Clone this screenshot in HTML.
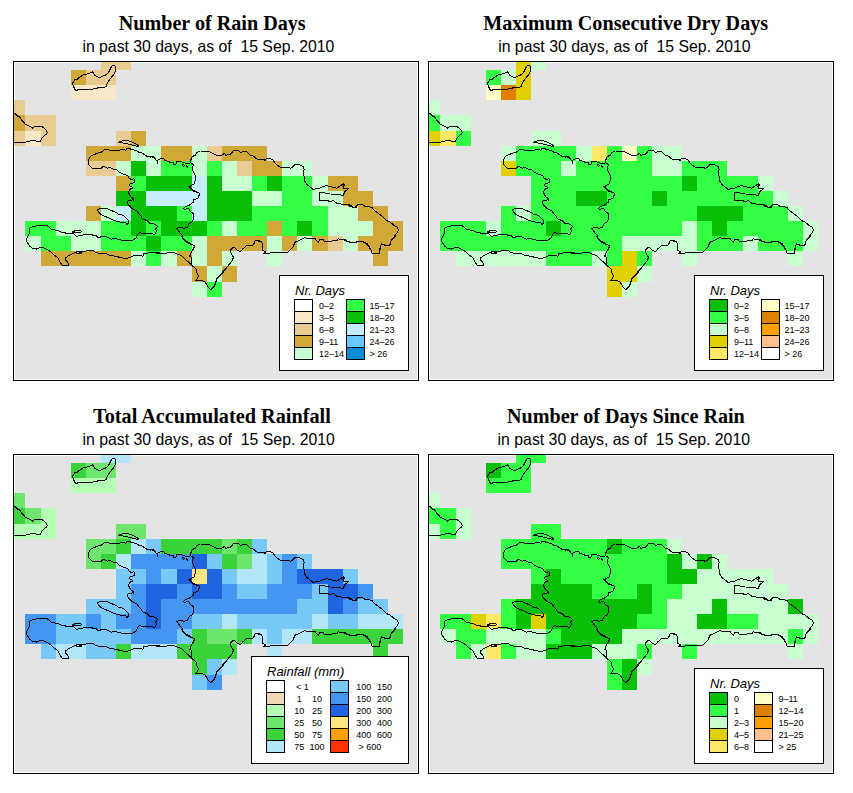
<!DOCTYPE html>
<html><head><meta charset="utf-8"><style>
html,body{margin:0;padding:0;background:#fff;width:853px;height:793px;overflow:hidden}
svg{display:block}
.tt{font-family:"Liberation Serif",serif;font-weight:bold;font-size:20px;fill:#000}
.st{font-family:"Liberation Sans",sans-serif;font-size:16.5px;fill:#000}
.lt{font-family:"Liberation Sans",sans-serif;font-style:italic;font-size:13px;fill:#000}
.ll{font-family:"Liberation Sans",sans-serif;font-size:9px;fill:#000}
</style></head><body>
<svg width="853" height="793" viewBox="0 0 853 793">

<rect x="14" y="62" width="404" height="318" fill="#ffffff"/>
<rect x="15" y="63" width="402" height="316" fill="#e4e4e4"/>
<rect x="101" y="62" width="15" height="8" fill="#e8cc94"/>
<rect x="116" y="62" width="15" height="8" fill="#e8cc94"/>
<rect x="71" y="70" width="15" height="15" fill="#d0a838"/>
<rect x="86" y="70" width="15" height="15" fill="#e8cc94"/>
<rect x="101" y="70" width="15" height="15" fill="#e8cc94"/>
<rect x="71" y="85" width="15" height="15" fill="#f8e8c8"/>
<rect x="86" y="85" width="15" height="15" fill="#f8e8c8"/>
<rect x="101" y="85" width="15" height="15" fill="#f8e8c8"/>
<rect x="14" y="100" width="11" height="15" fill="#e8cc94"/>
<rect x="14" y="115" width="11" height="16" fill="#d0a838"/>
<rect x="25" y="115" width="16" height="16" fill="#e8cc94"/>
<rect x="41" y="115" width="15" height="16" fill="#e8cc94"/>
<rect x="14" y="131" width="11" height="15" fill="#e8cc94"/>
<rect x="25" y="131" width="16" height="15" fill="#f8e8c8"/>
<rect x="41" y="131" width="15" height="15" fill="#e8cc94"/>
<rect x="116" y="131" width="15" height="15" fill="#e8cc94"/>
<rect x="131" y="131" width="15" height="15" fill="#d0a838"/>
<rect x="86" y="146" width="15" height="15" fill="#d0a838"/>
<rect x="101" y="146" width="15" height="15" fill="#d0a838"/>
<rect x="116" y="146" width="15" height="15" fill="#d0a838"/>
<rect x="131" y="146" width="15" height="15" fill="#c8ffd0"/>
<rect x="146" y="146" width="15" height="15" fill="#c8ffd0"/>
<rect x="161" y="146" width="16" height="15" fill="#d0a838"/>
<rect x="177" y="146" width="15" height="15" fill="#d0a838"/>
<rect x="192" y="146" width="15" height="15" fill="#c8ffd0"/>
<rect x="207" y="146" width="15" height="15" fill="#e8cc94"/>
<rect x="222" y="146" width="15" height="15" fill="#d0a838"/>
<rect x="237" y="146" width="15" height="15" fill="#d0a838"/>
<rect x="252" y="146" width="15" height="15" fill="#d0a838"/>
<rect x="86" y="161" width="15" height="15" fill="#e8cc94"/>
<rect x="101" y="161" width="15" height="15" fill="#e8cc94"/>
<rect x="116" y="161" width="15" height="15" fill="#c8ffd0"/>
<rect x="131" y="161" width="15" height="15" fill="#08c008"/>
<rect x="146" y="161" width="15" height="15" fill="#c8ffd0"/>
<rect x="161" y="161" width="16" height="15" fill="#33ff44"/>
<rect x="177" y="161" width="15" height="15" fill="#33ff44"/>
<rect x="192" y="161" width="15" height="15" fill="#c8ffd0"/>
<rect x="207" y="161" width="15" height="15" fill="#33ff44"/>
<rect x="222" y="161" width="15" height="15" fill="#c8ffd0"/>
<rect x="237" y="161" width="15" height="15" fill="#e8cc94"/>
<rect x="252" y="161" width="15" height="15" fill="#d0a838"/>
<rect x="267" y="161" width="15" height="15" fill="#d0a838"/>
<rect x="282" y="161" width="15" height="15" fill="#c8ffd0"/>
<rect x="297" y="161" width="15" height="15" fill="#c8ffd0"/>
<rect x="116" y="176" width="15" height="15" fill="#d0a838"/>
<rect x="131" y="176" width="15" height="15" fill="#33ff44"/>
<rect x="146" y="176" width="15" height="15" fill="#08c008"/>
<rect x="161" y="176" width="16" height="15" fill="#08c008"/>
<rect x="177" y="176" width="15" height="15" fill="#08c008"/>
<rect x="192" y="176" width="15" height="15" fill="#c4eeff"/>
<rect x="207" y="176" width="15" height="15" fill="#08c008"/>
<rect x="222" y="176" width="15" height="15" fill="#c8ffd0"/>
<rect x="237" y="176" width="15" height="15" fill="#c8ffd0"/>
<rect x="252" y="176" width="15" height="15" fill="#33ff44"/>
<rect x="267" y="176" width="15" height="15" fill="#08c008"/>
<rect x="282" y="176" width="15" height="15" fill="#33ff44"/>
<rect x="297" y="176" width="15" height="15" fill="#33ff44"/>
<rect x="312" y="176" width="16" height="15" fill="#c8ffd0"/>
<rect x="328" y="176" width="15" height="15" fill="#d0a838"/>
<rect x="343" y="176" width="15" height="15" fill="#d0a838"/>
<rect x="116" y="191" width="15" height="15" fill="#08c008"/>
<rect x="131" y="191" width="15" height="15" fill="#08c008"/>
<rect x="146" y="191" width="15" height="15" fill="#c4eeff"/>
<rect x="161" y="191" width="16" height="15" fill="#c4eeff"/>
<rect x="177" y="191" width="15" height="15" fill="#c4eeff"/>
<rect x="192" y="191" width="15" height="15" fill="#c4eeff"/>
<rect x="207" y="191" width="15" height="15" fill="#08c008"/>
<rect x="222" y="191" width="15" height="15" fill="#08c008"/>
<rect x="237" y="191" width="15" height="15" fill="#08c008"/>
<rect x="252" y="191" width="15" height="15" fill="#c8ffd0"/>
<rect x="267" y="191" width="15" height="15" fill="#c8ffd0"/>
<rect x="282" y="191" width="15" height="15" fill="#33ff44"/>
<rect x="297" y="191" width="15" height="15" fill="#33ff44"/>
<rect x="312" y="191" width="16" height="15" fill="#c8ffd0"/>
<rect x="328" y="191" width="15" height="15" fill="#c8ffd0"/>
<rect x="343" y="191" width="15" height="15" fill="#d0a838"/>
<rect x="358" y="191" width="15" height="15" fill="#d0a838"/>
<rect x="86" y="206" width="15" height="15" fill="#d0a838"/>
<rect x="101" y="206" width="15" height="15" fill="#c8ffd0"/>
<rect x="116" y="206" width="15" height="15" fill="#c4eeff"/>
<rect x="131" y="206" width="15" height="15" fill="#08c008"/>
<rect x="146" y="206" width="15" height="15" fill="#08c008"/>
<rect x="161" y="206" width="16" height="15" fill="#08c008"/>
<rect x="177" y="206" width="15" height="15" fill="#33ff44"/>
<rect x="192" y="206" width="15" height="15" fill="#c4eeff"/>
<rect x="207" y="206" width="15" height="15" fill="#08c008"/>
<rect x="222" y="206" width="15" height="15" fill="#08c008"/>
<rect x="237" y="206" width="15" height="15" fill="#08c008"/>
<rect x="252" y="206" width="15" height="15" fill="#33ff44"/>
<rect x="267" y="206" width="15" height="15" fill="#33ff44"/>
<rect x="282" y="206" width="15" height="15" fill="#33ff44"/>
<rect x="297" y="206" width="15" height="15" fill="#33ff44"/>
<rect x="312" y="206" width="16" height="15" fill="#33ff44"/>
<rect x="328" y="206" width="15" height="15" fill="#c8ffd0"/>
<rect x="343" y="206" width="15" height="15" fill="#c8ffd0"/>
<rect x="358" y="206" width="15" height="15" fill="#d0a838"/>
<rect x="373" y="206" width="15" height="15" fill="#d0a838"/>
<rect x="25" y="221" width="16" height="15" fill="#33ff44"/>
<rect x="41" y="221" width="15" height="15" fill="#33ff44"/>
<rect x="56" y="221" width="15" height="15" fill="#c8ffd0"/>
<rect x="71" y="221" width="15" height="15" fill="#c8ffd0"/>
<rect x="86" y="221" width="15" height="15" fill="#c8ffd0"/>
<rect x="101" y="221" width="15" height="15" fill="#33ff44"/>
<rect x="116" y="221" width="15" height="15" fill="#33ff44"/>
<rect x="131" y="221" width="15" height="15" fill="#08c008"/>
<rect x="146" y="221" width="15" height="15" fill="#33ff44"/>
<rect x="161" y="221" width="16" height="15" fill="#08c008"/>
<rect x="177" y="221" width="15" height="15" fill="#08c008"/>
<rect x="192" y="221" width="15" height="15" fill="#08c008"/>
<rect x="207" y="221" width="15" height="15" fill="#33ff44"/>
<rect x="222" y="221" width="15" height="15" fill="#c8ffd0"/>
<rect x="237" y="221" width="15" height="15" fill="#33ff44"/>
<rect x="252" y="221" width="15" height="15" fill="#33ff44"/>
<rect x="267" y="221" width="15" height="15" fill="#d0a838"/>
<rect x="282" y="221" width="15" height="15" fill="#33ff44"/>
<rect x="297" y="221" width="15" height="15" fill="#08c008"/>
<rect x="312" y="221" width="16" height="15" fill="#33ff44"/>
<rect x="328" y="221" width="15" height="15" fill="#c8ffd0"/>
<rect x="343" y="221" width="15" height="15" fill="#c8ffd0"/>
<rect x="358" y="221" width="15" height="15" fill="#c8ffd0"/>
<rect x="373" y="221" width="15" height="15" fill="#d0a838"/>
<rect x="388" y="221" width="15" height="15" fill="#d0a838"/>
<rect x="25" y="236" width="16" height="15" fill="#c8ffd0"/>
<rect x="41" y="236" width="15" height="15" fill="#33ff44"/>
<rect x="56" y="236" width="15" height="15" fill="#33ff44"/>
<rect x="71" y="236" width="15" height="15" fill="#c8ffd0"/>
<rect x="86" y="236" width="15" height="15" fill="#c8ffd0"/>
<rect x="101" y="236" width="15" height="15" fill="#33ff44"/>
<rect x="116" y="236" width="15" height="15" fill="#33ff44"/>
<rect x="131" y="236" width="15" height="15" fill="#33ff44"/>
<rect x="146" y="236" width="15" height="15" fill="#08c008"/>
<rect x="161" y="236" width="16" height="15" fill="#33ff44"/>
<rect x="177" y="236" width="15" height="15" fill="#33ff44"/>
<rect x="192" y="236" width="15" height="15" fill="#c8ffd0"/>
<rect x="207" y="236" width="15" height="15" fill="#d0a838"/>
<rect x="222" y="236" width="15" height="15" fill="#d0a838"/>
<rect x="237" y="236" width="15" height="15" fill="#d0a838"/>
<rect x="252" y="236" width="15" height="15" fill="#d0a838"/>
<rect x="267" y="236" width="15" height="15" fill="#c8ffd0"/>
<rect x="282" y="236" width="15" height="15" fill="#d0a838"/>
<rect x="297" y="236" width="15" height="15" fill="#c8ffd0"/>
<rect x="312" y="236" width="16" height="15" fill="#d0a838"/>
<rect x="328" y="236" width="15" height="15" fill="#e8cc94"/>
<rect x="343" y="236" width="15" height="15" fill="#c8ffd0"/>
<rect x="358" y="236" width="15" height="15" fill="#d0a838"/>
<rect x="373" y="236" width="15" height="15" fill="#d0a838"/>
<rect x="388" y="236" width="15" height="15" fill="#d0a838"/>
<rect x="41" y="251" width="15" height="15" fill="#d0a838"/>
<rect x="56" y="251" width="15" height="15" fill="#d0a838"/>
<rect x="71" y="251" width="15" height="15" fill="#d0a838"/>
<rect x="86" y="251" width="15" height="15" fill="#d0a838"/>
<rect x="101" y="251" width="15" height="15" fill="#d0a838"/>
<rect x="116" y="251" width="15" height="15" fill="#d0a838"/>
<rect x="131" y="251" width="15" height="15" fill="#c8ffd0"/>
<rect x="146" y="251" width="15" height="15" fill="#33ff44"/>
<rect x="161" y="251" width="16" height="15" fill="#c8ffd0"/>
<rect x="177" y="251" width="15" height="15" fill="#d0a838"/>
<rect x="192" y="251" width="15" height="15" fill="#c8ffd0"/>
<rect x="207" y="251" width="15" height="15" fill="#d0a838"/>
<rect x="222" y="251" width="15" height="15" fill="#c8ffd0"/>
<rect x="267" y="251" width="15" height="15" fill="#c8ffd0"/>
<rect x="373" y="251" width="15" height="15" fill="#d0a838"/>
<rect x="192" y="266" width="15" height="16" fill="#d0a838"/>
<rect x="207" y="266" width="15" height="16" fill="#c8ffd0"/>
<rect x="222" y="266" width="15" height="16" fill="#d0a838"/>
<rect x="192" y="282" width="15" height="15" fill="#c8ffd0"/>
<rect x="207" y="282" width="15" height="15" fill="#33ff44"/>
<clipPath id="cp1"><rect x="14" y="62" width="404" height="318"/></clipPath>
<g clip-path="url(#cp1)"><g transform="translate(0,0)" fill="none" stroke="#000" stroke-width="1" stroke-linejoin="round" stroke-linecap="round" shape-rendering="crispEdges"><path d="M72.1 83.8 L73.9 81.3 L74.5 79.5 L76.8 79.5 L78.2 78.2 L83.4 74.8 L85.9 74.3 L89.9 73.3 L92.4 71.5 L95.2 75.8 L97.9 77.0 L101.0 77.0 L105.3 75.2 L108.4 72.7 L111.5 66.5 L113.3 65.3 L115.2 65.9 L115.4 70.8 L113.9 74.5 L110.2 78.8 L107.2 83.2 L105.9 86.8 L101.6 87.5 L96.7 88.1 L93.0 89.1 L85.6 89.6 L80.7 89.1 L75.8 90.5 L74.5 88.7 L73.1 85.0 L72.1 83.8"/>
<path d="M11.6 112.7 L13.8 113.4 L15.8 114.1 L17.6 116.2 L19.7 116.9 L21.4 119.7 L23.9 122.5 L25.3 124.3 L28.1 125.3 L30.6 126.7 L32.3 128.1 L33.4 127.1 L37.6 126.7 L39.0 126.2 L41.8 126.6 L44.0 128.1 L46.1 130.2 L47.5 132.7 L46.1 134.5 L44.0 135.9 L41.8 138.0 L41.1 140.1 L40.4 141.5 L37.6 141.5 L35.5 140.7 L31.3 140.4 L29.2 141.5 L25.0 142.2 L18.6 142.2 L11.6 142.2"/>
<path d="M118.2 142.2 L121.3 141.1 L125.7 140.4 L130.1 141.3 L134.5 143.1 L138.0 145.3 L138.5 146.3 L136.3 146.2 L131.0 144.8 L125.7 143.5 L121.3 142.6 L118.2 142.2"/>
<path d="M133.6 200.0 L132.8 198.0 L130.1 196.3 L129.7 193.6 L128.4 192.8 L128.8 191.0 L130.1 189.2 L132.3 188.4 L131.9 186.6 L129.2 185.7 L130.1 184.0 L132.8 183.1 L134.5 182.2 L134.5 179.1 L133.2 178.7 L131.9 179.6 L129.7 178.7 L127.5 175.6 L124.0 174.3 L119.6 172.5 L116.9 169.9 L113.4 169.2 L109.9 167.4 L107.3 168.3 L104.6 166.8 L102.9 166.4 L101.1 168.3 L93.2 168.6 L90.5 166.8 L88.3 163.7 L88.3 160.2 L90.1 156.7 L93.2 154.9 L97.6 153.2 L101.1 152.3 L103.3 150.6 L105.5 149.2 L108.1 149.2 L109.5 150.6 L114.3 151.0 L121.3 149.7 L124.4 149.2 L125.7 151.0 L126.6 148.8 L128.4 148.3 L131.0 149.2 L136.3 150.6 L138.9 152.3 L141.6 152.8 L146.8 156.3 L150.3 156.7 L153.0 157.2 L155.0 158.5"/>
<path d="M150.0 157.2 L153.5 156.7 L155.3 158.9 L157.0 161.1 L157.5 163.3 L157.9 160.2 L160.6 158.9 L163.6 158.0 L164.5 160.7 L167.6 161.1 L170.2 162.4 L173.3 162.9 L173.7 164.6 L175.9 164.2 L176.4 162.0 L179.9 161.5 L183.4 162.4 L186.1 163.3 L190.0 163.0 L190.9 159.8 L192.2 156.7 L195.7 154.9 L197.0 152.3 L200.1 151.0 L208.0 151.2 L211.6 152.8 L216.8 155.4 L223.0 154.9 L225.0 152.8"/>
<path d="M191.3 163.0 L193.1 164.6 L192.6 169.9 L195.3 175.6 L195.3 180.4 L194.0 184.4 L190.0 185.7 L190.4 188.4 L193.5 191.0"/>
<path d="M182.1 164.8 L183.4 166.4 L185.0 165.3 L183.0 164.6 L182.1 164.8"/>
<path d="M186.1 165.5 L187.4 167.3 L188.0 165.9"/>
<path d="M220.0 155.4 L222.6 154.9 L224.4 153.2 L225.7 155.4 L230.6 154.1 L233.6 150.6 L238.5 150.6 L240.2 152.3 L246.4 151.2 L249.9 154.9 L252.5 155.4 L256.1 158.5 L257.8 159.3 L264.0 159.3 L264.8 160.7 L266.6 158.5 L269.2 158.0 L272.8 159.8 L276.3 164.6 L280.7 167.3 L285.1 167.7 L291.2 168.1 L293.9 165.5 L295.0 165.1"/>
<path d="M290.0 168.5 L291.8 167.6 L293.5 165.4 L297.0 164.1 L299.7 164.9 L303.2 166.7 L304.1 169.3 L303.6 172.0 L304.1 177.3 L304.5 180.8 L307.6 185.2 L311.1 187.8 L312.9 189.4 L316.4 188.7 L320.8 187.8 L323.4 186.1 L326.9 185.9 L331.3 186.5 L333.1 187.4 L336.6 188.2 L340.1 186.1 L343.2 183.8 L344.5 184.7 L342.8 186.9 L343.6 188.2 L348.5 188.2 L347.1 190.0 L344.9 191.3 L344.1 193.1 L343.6 195.3 L341.9 195.3 L338.8 194.4 L330.4 194.0 L322.5 192.6 L319.9 192.2 L319.0 195.7 L319.0 200.1 L320.3 201.0 L326.9 200.6 L330.0 201.4 L333.5 200.6 L336.6 203.2 L341.0 204.1 L347.1 204.9 L349.4 204.1 L350.7 206.3 L354.2 207.6 L357.7 204.9 L362.1 204.5 L365.0 206.3"/>
<path d="M343.0 204.9 L348.3 204.5 L349.6 206.3 L350.9 205.4 L353.6 207.6 L356.2 207.2 L358.4 204.5 L362.3 204.5 L364.1 206.3 L368.5 206.7 L372.0 207.6 L373.8 209.8 L378.2 213.3 L380.8 215.1 L387.0 220.8 L389.6 221.7 L394.9 226.1 L396.6 226.5 L398.4 230.0 L396.6 233.5 L390.9 241.0 L390.5 244.9 L386.1 245.4 L383.0 244.5 L381.7 243.6 L380.8 245.8 L379.5 250.0"/>
<path d="M343.0 239.2 L346.5 241.0 L350.9 242.3 L357.9 241.9 L361.5 241.4 L365.9 243.2 L369.4 247.2 L370.7 250.0"/>
<path d="M325.0 241.6 L330.3 241.2 L337.3 240.3 L338.2 238.5 L339.1 239.0 L345.2 239.4 L347.0 241.6 L351.4 242.5 L357.5 242.0 L360.2 241.2 L363.7 242.0 L367.2 243.8 L369.8 247.3 L371.2 250.8 L372.5 253.9 L376.0 253.5 L379.5 253.5 L379.9 250.4 L381.3 243.8 L383.9 245.1 L390.1 245.1 L390.5 241.6 L396.2 235.0"/>
<path d="M255.0 240.4 L258.5 240.4 L261.6 241.7 L262.5 244.3 L262.0 248.3 L262.9 250.5 L265.6 251.8 L263.8 253.6 L268.2 254.0 L271.7 252.4 L287.5 252.4 L292.8 247.4 L295.0 242.2 L299.0 240.4 L304.2 237.8 L306.9 238.2 L314.8 238.2 L316.6 240.4 L318.3 242.2 L319.6 239.5 L322.7 239.1 L324.5 241.3 L330.0 241.3"/>
<path d="M260.0 241.3 L255.3 240.4 L254.0 243.5 L252.7 245.2 L246.6 245.7 L243.0 248.7 L240.4 251.4 L237.8 250.5 L234.2 247.4 L231.6 248.3 L230.3 250.9 L231.6 254.0 L233.4 257.1 L232.5 260.2 L229.0 264.6 L225.0 269.8 L221.1 275.1 L217.5 277.8 L215.8 282.1 L214.4 285.0"/>
<path d="M188.7 186.5 L193.1 190.0 L194.8 191.3 L199.2 193.1 L199.7 194.4 L198.4 196.6 L197.9 198.8 L194.0 199.2 L193.1 202.3 L191.3 203.6 L188.7 205.8 L185.6 206.3 L183.4 208.5 L184.3 209.3 L188.7 208.5 L190.4 211.5 L193.5 213.7 L193.5 219.0 L192.2 221.7 L189.1 223.8 L187.4 227.8 L183.4 228.2 L181.7 227.4 L176.4 228.2 L178.1 230.4 L182.5 235.7 L183.0 239.2 L188.2 243.2 L194.0 245.4 L194.8 246.3 L193.1 250.0"/>
<path d="M130.7 188.2 L129.0 191.3 L128.1 192.6 L129.8 194.4 L130.7 196.6 L133.4 198.8 L131.6 200.6 L128.1 201.0 L127.2 202.8 L129.0 205.4 L132.5 208.9 L136.9 211.1 L140.4 215.5 L143.0 219.0 L147.4 220.8 L150.1 223.4 L155.3 224.3 L157.5 226.5 L155.8 228.7 L156.2 231.3 L154.9 234.4 L150.9 233.5 L143.0 233.5 L139.5 232.6 L137.8 234.0 L136.0 237.9 L132.9 240.1 L129.0 240.6 L123.7 240.6 L120.2 239.7 L114.9 238.4 L111.4 239.2 L107.0 237.0 L104.3 236.2 L98.2 237.5 L95.5 235.3 L90.3 234.8 L85.0 234.8"/>
<path d="M97.3 210.2 L99.5 208.5 L106.1 208.0 L110.5 210.2 L115.8 212.4 L118.4 214.2 L123.7 215.5 L125.5 217.3 L128.5 220.8 L128.1 223.4 L126.8 224.7 L125.5 222.5 L120.2 222.1 L114.9 220.8 L110.5 218.6 L102.6 215.5 L100.0 213.7 L97.3 210.2"/>
<path d="M95.0 235.5 L90.3 234.2 L85.1 234.6 L79.8 235.5 L76.3 236.4 L75.4 235.1 L72.8 233.3 L67.5 233.3 L61.3 232.4 L58.7 230.7 L51.6 229.3 L47.3 225.8 L39.3 225.4 L34.1 226.3 L30.6 227.6 L29.2 229.3 L30.1 231.1 L27.9 236.4 L26.1 240.3 L27.9 243.4 L29.7 246.1 L32.3 248.2 L36.3 249.1 L40.2 247.4 L43.7 247.8 L49.0 250.4 L52.5 253.5 L57.8 257.9 L60.5 262.8 L62.2 265.4 L68.8 265.4 L67.9 262.3 L65.3 260.1 L65.7 257.9 L69.2 255.3 L73.6 253.1 L77.2 251.8 L81.5 252.2 L85.1 251.3 L86.8 250.4 L90.3 250.0 L95.0 251.3"/>
<path d="M71.9 232.0 L73.6 231.1 L80.7 230.4 L81.7 231.5 L79.8 232.4 L74.5 232.9 L71.9 232.0"/>
<path d="M76.3 252.0 L81.5 251.5 L82.0 253.1 L76.7 253.3 L76.3 252.0"/>
<path d="M90.0 250.7 L93.5 250.7 L95.3 252.0 L98.8 253.3 L106.7 253.7 L110.2 255.5 L116.4 256.4 L120.8 257.7 L126.0 258.6 L131.3 256.8 L134.0 255.5 L141.0 255.5 L142.8 256.4 L143.6 253.7 L151.6 252.4 L158.6 252.9 L165.0 253.3"/>
<path d="M155.0 252.8 L159.4 253.6 L166.4 253.2 L168.2 252.3 L173.5 252.3 L176.1 253.6 L181.4 255.4 L184.9 258.9 L188.4 262.0 L191.9 265.5 L195.9 268.6 L196.8 272.5 L198.5 276.1 L197.2 278.7 L195.4 280.4 L198.1 280.9 L201.6 280.4 L205.1 281.8 L207.8 286.6 L210.8 289.7 L213.9 286.6 L215.7 283.1 L217.0 278.2 L220.1 275.2 L224.5 269.9 L230.0 263.7"/>
<path d="M181.4 236.5 L184.9 240.0 L188.0 242.2 L193.7 245.3 L194.6 246.6 L192.8 249.2 L191.1 253.2 L189.7 256.3 L191.9 257.6 L191.9 261.5 L191.1 264.6 L191.9 265.5"/></g></g>
<rect x="13.5" y="61.5" width="405" height="319" fill="none" stroke="#000" stroke-width="1"/>
<rect x="279.5" y="275.5" width="129" height="95" fill="#fff" stroke="#000" stroke-width="1"/>
<text x="295" y="294.5" class="lt">Nr. Days</text>
<rect x="294.5" y="299.5" width="18" height="12" fill="#ffffff" stroke="#000" stroke-width="1"/>
<rect x="294.5" y="311.5" width="18" height="12" fill="#f8e8c8" stroke="#000" stroke-width="1"/>
<rect x="294.5" y="323.5" width="18" height="12" fill="#e8cc94" stroke="#000" stroke-width="1"/>
<rect x="294.5" y="335.5" width="18" height="12" fill="#d0a838" stroke="#000" stroke-width="1"/>
<rect x="294.5" y="347.5" width="18" height="12" fill="#c8ffd0" stroke="#000" stroke-width="1"/>
<rect x="346.5" y="299.5" width="18" height="12" fill="#33ff44" stroke="#000" stroke-width="1"/>
<rect x="346.5" y="311.5" width="18" height="12" fill="#08c008" stroke="#000" stroke-width="1"/>
<rect x="346.5" y="323.5" width="18" height="12" fill="#c4eeff" stroke="#000" stroke-width="1"/>
<rect x="346.5" y="335.5" width="18" height="12" fill="#66c8ff" stroke="#000" stroke-width="1"/>
<rect x="346.5" y="347.5" width="18" height="12" fill="#0a8cd8" stroke="#000" stroke-width="1"/>
<text x="319" y="308.8" class="ll">0–2</text>
<text x="319" y="320.8" class="ll">3–5</text>
<text x="319" y="332.8" class="ll">6–8</text>
<text x="319" y="344.8" class="ll">9–11</text>
<text x="319" y="356.8" class="ll">12–14</text>
<text x="369.5" y="308.8" class="ll">15–17</text>
<text x="369.5" y="320.8" class="ll">18–20</text>
<text x="369.5" y="332.8" class="ll">21–23</text>
<text x="369.5" y="344.8" class="ll">24–26</text>
<text x="369.5" y="356.8" class="ll">&gt; 26</text>
<text x="212.2" y="29.7" class="tt" text-anchor="middle" textLength="187" lengthAdjust="spacingAndGlyphs">Number of Rain Days</text>
<text x="208.4" y="52" class="st" text-anchor="middle" textLength="252" lengthAdjust="spacingAndGlyphs" xml:space="preserve">in past 30 days, as of  15 Sep. 2010</text>
<rect x="429" y="62" width="404" height="318" fill="#ffffff"/>
<rect x="430" y="63" width="402" height="316" fill="#e4e4e4"/>
<rect x="516" y="62" width="15" height="8" fill="#e0d000"/>
<rect x="531" y="62" width="15" height="8" fill="#c8ffd0"/>
<rect x="486" y="70" width="15" height="15" fill="#33ff44"/>
<rect x="501" y="70" width="15" height="15" fill="#c8ffd0"/>
<rect x="516" y="70" width="15" height="15" fill="#e0d000"/>
<rect x="486" y="85" width="15" height="15" fill="#ffffc8"/>
<rect x="501" y="85" width="15" height="15" fill="#e08000"/>
<rect x="516" y="85" width="15" height="15" fill="#e0d000"/>
<rect x="429" y="100" width="11" height="15" fill="#c8ffd0"/>
<rect x="429" y="115" width="11" height="16" fill="#33ff44"/>
<rect x="440" y="115" width="16" height="16" fill="#c8ffd0"/>
<rect x="456" y="115" width="15" height="16" fill="#c8ffd0"/>
<rect x="429" y="131" width="11" height="15" fill="#e0d000"/>
<rect x="440" y="131" width="16" height="15" fill="#ffe866"/>
<rect x="456" y="131" width="15" height="15" fill="#33ff44"/>
<rect x="531" y="131" width="15" height="15" fill="#c8ffd0"/>
<rect x="546" y="131" width="15" height="15" fill="#c8ffd0"/>
<rect x="501" y="146" width="15" height="15" fill="#c8ffd0"/>
<rect x="516" y="146" width="15" height="15" fill="#33ff44"/>
<rect x="531" y="146" width="15" height="15" fill="#33ff44"/>
<rect x="546" y="146" width="15" height="15" fill="#33ff44"/>
<rect x="561" y="146" width="15" height="15" fill="#33ff44"/>
<rect x="576" y="146" width="16" height="15" fill="#c8ffd0"/>
<rect x="592" y="146" width="15" height="15" fill="#ffe866"/>
<rect x="607" y="146" width="15" height="15" fill="#33ff44"/>
<rect x="622" y="146" width="15" height="15" fill="#ffffc8"/>
<rect x="637" y="146" width="15" height="15" fill="#33ff44"/>
<rect x="652" y="146" width="15" height="15" fill="#c8ffd0"/>
<rect x="667" y="146" width="15" height="15" fill="#c8ffd0"/>
<rect x="501" y="161" width="15" height="15" fill="#e0d000"/>
<rect x="516" y="161" width="15" height="15" fill="#33ff44"/>
<rect x="531" y="161" width="15" height="15" fill="#33ff44"/>
<rect x="546" y="161" width="15" height="15" fill="#33ff44"/>
<rect x="561" y="161" width="15" height="15" fill="#c8ffd0"/>
<rect x="576" y="161" width="16" height="15" fill="#33ff44"/>
<rect x="592" y="161" width="15" height="15" fill="#33ff44"/>
<rect x="607" y="161" width="15" height="15" fill="#33ff44"/>
<rect x="622" y="161" width="15" height="15" fill="#33ff44"/>
<rect x="637" y="161" width="15" height="15" fill="#33ff44"/>
<rect x="652" y="161" width="15" height="15" fill="#c8ffd0"/>
<rect x="667" y="161" width="15" height="15" fill="#c8ffd0"/>
<rect x="682" y="161" width="15" height="15" fill="#33ff44"/>
<rect x="697" y="161" width="15" height="15" fill="#33ff44"/>
<rect x="712" y="161" width="15" height="15" fill="#33ff44"/>
<rect x="531" y="176" width="15" height="15" fill="#33ff44"/>
<rect x="546" y="176" width="15" height="15" fill="#33ff44"/>
<rect x="561" y="176" width="15" height="15" fill="#33ff44"/>
<rect x="576" y="176" width="16" height="15" fill="#33ff44"/>
<rect x="592" y="176" width="15" height="15" fill="#33ff44"/>
<rect x="607" y="176" width="15" height="15" fill="#33ff44"/>
<rect x="622" y="176" width="15" height="15" fill="#33ff44"/>
<rect x="637" y="176" width="15" height="15" fill="#33ff44"/>
<rect x="652" y="176" width="15" height="15" fill="#33ff44"/>
<rect x="667" y="176" width="15" height="15" fill="#33ff44"/>
<rect x="682" y="176" width="15" height="15" fill="#08c008"/>
<rect x="697" y="176" width="15" height="15" fill="#33ff44"/>
<rect x="712" y="176" width="15" height="15" fill="#33ff44"/>
<rect x="727" y="176" width="16" height="15" fill="#33ff44"/>
<rect x="743" y="176" width="15" height="15" fill="#33ff44"/>
<rect x="758" y="176" width="15" height="15" fill="#c8ffd0"/>
<rect x="531" y="191" width="15" height="15" fill="#33ff44"/>
<rect x="546" y="191" width="15" height="15" fill="#33ff44"/>
<rect x="561" y="191" width="15" height="15" fill="#33ff44"/>
<rect x="576" y="191" width="16" height="15" fill="#08c008"/>
<rect x="592" y="191" width="15" height="15" fill="#08c008"/>
<rect x="607" y="191" width="15" height="15" fill="#33ff44"/>
<rect x="622" y="191" width="15" height="15" fill="#33ff44"/>
<rect x="637" y="191" width="15" height="15" fill="#33ff44"/>
<rect x="652" y="191" width="15" height="15" fill="#08c008"/>
<rect x="667" y="191" width="15" height="15" fill="#33ff44"/>
<rect x="682" y="191" width="15" height="15" fill="#33ff44"/>
<rect x="697" y="191" width="15" height="15" fill="#33ff44"/>
<rect x="712" y="191" width="15" height="15" fill="#33ff44"/>
<rect x="727" y="191" width="16" height="15" fill="#33ff44"/>
<rect x="743" y="191" width="15" height="15" fill="#33ff44"/>
<rect x="758" y="191" width="15" height="15" fill="#33ff44"/>
<rect x="773" y="191" width="15" height="15" fill="#c8ffd0"/>
<rect x="501" y="206" width="15" height="15" fill="#33ff44"/>
<rect x="516" y="206" width="15" height="15" fill="#c8ffd0"/>
<rect x="531" y="206" width="15" height="15" fill="#33ff44"/>
<rect x="546" y="206" width="15" height="15" fill="#33ff44"/>
<rect x="561" y="206" width="15" height="15" fill="#33ff44"/>
<rect x="576" y="206" width="16" height="15" fill="#33ff44"/>
<rect x="592" y="206" width="15" height="15" fill="#33ff44"/>
<rect x="607" y="206" width="15" height="15" fill="#33ff44"/>
<rect x="622" y="206" width="15" height="15" fill="#33ff44"/>
<rect x="637" y="206" width="15" height="15" fill="#33ff44"/>
<rect x="652" y="206" width="15" height="15" fill="#33ff44"/>
<rect x="667" y="206" width="15" height="15" fill="#33ff44"/>
<rect x="682" y="206" width="15" height="15" fill="#33ff44"/>
<rect x="697" y="206" width="15" height="15" fill="#08c008"/>
<rect x="712" y="206" width="15" height="15" fill="#08c008"/>
<rect x="727" y="206" width="16" height="15" fill="#08c008"/>
<rect x="743" y="206" width="15" height="15" fill="#33ff44"/>
<rect x="758" y="206" width="15" height="15" fill="#33ff44"/>
<rect x="773" y="206" width="15" height="15" fill="#33ff44"/>
<rect x="788" y="206" width="15" height="15" fill="#c8ffd0"/>
<rect x="440" y="221" width="16" height="15" fill="#33ff44"/>
<rect x="456" y="221" width="15" height="15" fill="#33ff44"/>
<rect x="471" y="221" width="15" height="15" fill="#33ff44"/>
<rect x="486" y="221" width="15" height="15" fill="#c8ffd0"/>
<rect x="501" y="221" width="15" height="15" fill="#33ff44"/>
<rect x="516" y="221" width="15" height="15" fill="#33ff44"/>
<rect x="531" y="221" width="15" height="15" fill="#33ff44"/>
<rect x="546" y="221" width="15" height="15" fill="#08c008"/>
<rect x="561" y="221" width="15" height="15" fill="#33ff44"/>
<rect x="576" y="221" width="16" height="15" fill="#33ff44"/>
<rect x="592" y="221" width="15" height="15" fill="#33ff44"/>
<rect x="607" y="221" width="15" height="15" fill="#33ff44"/>
<rect x="622" y="221" width="15" height="15" fill="#33ff44"/>
<rect x="637" y="221" width="15" height="15" fill="#33ff44"/>
<rect x="652" y="221" width="15" height="15" fill="#33ff44"/>
<rect x="667" y="221" width="15" height="15" fill="#33ff44"/>
<rect x="682" y="221" width="15" height="15" fill="#c8ffd0"/>
<rect x="697" y="221" width="15" height="15" fill="#33ff44"/>
<rect x="712" y="221" width="15" height="15" fill="#08c008"/>
<rect x="727" y="221" width="16" height="15" fill="#33ff44"/>
<rect x="743" y="221" width="15" height="15" fill="#33ff44"/>
<rect x="758" y="221" width="15" height="15" fill="#33ff44"/>
<rect x="773" y="221" width="15" height="15" fill="#33ff44"/>
<rect x="788" y="221" width="15" height="15" fill="#33ff44"/>
<rect x="803" y="221" width="15" height="15" fill="#c8ffd0"/>
<rect x="440" y="236" width="16" height="15" fill="#33ff44"/>
<rect x="456" y="236" width="15" height="15" fill="#33ff44"/>
<rect x="471" y="236" width="15" height="15" fill="#33ff44"/>
<rect x="486" y="236" width="15" height="15" fill="#33ff44"/>
<rect x="501" y="236" width="15" height="15" fill="#33ff44"/>
<rect x="516" y="236" width="15" height="15" fill="#33ff44"/>
<rect x="531" y="236" width="15" height="15" fill="#33ff44"/>
<rect x="546" y="236" width="15" height="15" fill="#33ff44"/>
<rect x="561" y="236" width="15" height="15" fill="#33ff44"/>
<rect x="576" y="236" width="16" height="15" fill="#33ff44"/>
<rect x="592" y="236" width="15" height="15" fill="#33ff44"/>
<rect x="607" y="236" width="15" height="15" fill="#33ff44"/>
<rect x="622" y="236" width="15" height="15" fill="#c8ffd0"/>
<rect x="637" y="236" width="15" height="15" fill="#c8ffd0"/>
<rect x="652" y="236" width="15" height="15" fill="#c8ffd0"/>
<rect x="667" y="236" width="15" height="15" fill="#c8ffd0"/>
<rect x="682" y="236" width="15" height="15" fill="#c8ffd0"/>
<rect x="697" y="236" width="15" height="15" fill="#33ff44"/>
<rect x="712" y="236" width="15" height="15" fill="#33ff44"/>
<rect x="727" y="236" width="16" height="15" fill="#33ff44"/>
<rect x="743" y="236" width="15" height="15" fill="#c8ffd0"/>
<rect x="758" y="236" width="15" height="15" fill="#33ff44"/>
<rect x="773" y="236" width="15" height="15" fill="#33ff44"/>
<rect x="788" y="236" width="15" height="15" fill="#33ff44"/>
<rect x="803" y="236" width="15" height="15" fill="#c8ffd0"/>
<rect x="456" y="251" width="15" height="15" fill="#c8ffd0"/>
<rect x="471" y="251" width="15" height="15" fill="#c8ffd0"/>
<rect x="486" y="251" width="15" height="15" fill="#c8ffd0"/>
<rect x="501" y="251" width="15" height="15" fill="#c8ffd0"/>
<rect x="516" y="251" width="15" height="15" fill="#c8ffd0"/>
<rect x="531" y="251" width="15" height="15" fill="#c8ffd0"/>
<rect x="546" y="251" width="15" height="15" fill="#33ff44"/>
<rect x="561" y="251" width="15" height="15" fill="#33ff44"/>
<rect x="576" y="251" width="16" height="15" fill="#33ff44"/>
<rect x="592" y="251" width="15" height="15" fill="#c8ffd0"/>
<rect x="607" y="251" width="15" height="15" fill="#33ff44"/>
<rect x="622" y="251" width="15" height="15" fill="#e0d000"/>
<rect x="637" y="251" width="15" height="15" fill="#33ff44"/>
<rect x="682" y="251" width="15" height="15" fill="#c8ffd0"/>
<rect x="788" y="251" width="15" height="15" fill="#c8ffd0"/>
<rect x="607" y="266" width="15" height="16" fill="#e0d000"/>
<rect x="622" y="266" width="15" height="16" fill="#e0d000"/>
<rect x="637" y="266" width="15" height="16" fill="#c8ffd0"/>
<rect x="607" y="282" width="15" height="15" fill="#e0d000"/>
<rect x="622" y="282" width="15" height="15" fill="#c8ffd0"/>
<clipPath id="cp2"><rect x="429" y="62" width="404" height="318"/></clipPath>
<g clip-path="url(#cp2)"><g transform="translate(415,0)" fill="none" stroke="#000" stroke-width="1" stroke-linejoin="round" stroke-linecap="round" shape-rendering="crispEdges"><path d="M72.1 83.8 L73.9 81.3 L74.5 79.5 L76.8 79.5 L78.2 78.2 L83.4 74.8 L85.9 74.3 L89.9 73.3 L92.4 71.5 L95.2 75.8 L97.9 77.0 L101.0 77.0 L105.3 75.2 L108.4 72.7 L111.5 66.5 L113.3 65.3 L115.2 65.9 L115.4 70.8 L113.9 74.5 L110.2 78.8 L107.2 83.2 L105.9 86.8 L101.6 87.5 L96.7 88.1 L93.0 89.1 L85.6 89.6 L80.7 89.1 L75.8 90.5 L74.5 88.7 L73.1 85.0 L72.1 83.8"/>
<path d="M11.6 112.7 L13.8 113.4 L15.8 114.1 L17.6 116.2 L19.7 116.9 L21.4 119.7 L23.9 122.5 L25.3 124.3 L28.1 125.3 L30.6 126.7 L32.3 128.1 L33.4 127.1 L37.6 126.7 L39.0 126.2 L41.8 126.6 L44.0 128.1 L46.1 130.2 L47.5 132.7 L46.1 134.5 L44.0 135.9 L41.8 138.0 L41.1 140.1 L40.4 141.5 L37.6 141.5 L35.5 140.7 L31.3 140.4 L29.2 141.5 L25.0 142.2 L18.6 142.2 L11.6 142.2"/>
<path d="M118.2 142.2 L121.3 141.1 L125.7 140.4 L130.1 141.3 L134.5 143.1 L138.0 145.3 L138.5 146.3 L136.3 146.2 L131.0 144.8 L125.7 143.5 L121.3 142.6 L118.2 142.2"/>
<path d="M133.6 200.0 L132.8 198.0 L130.1 196.3 L129.7 193.6 L128.4 192.8 L128.8 191.0 L130.1 189.2 L132.3 188.4 L131.9 186.6 L129.2 185.7 L130.1 184.0 L132.8 183.1 L134.5 182.2 L134.5 179.1 L133.2 178.7 L131.9 179.6 L129.7 178.7 L127.5 175.6 L124.0 174.3 L119.6 172.5 L116.9 169.9 L113.4 169.2 L109.9 167.4 L107.3 168.3 L104.6 166.8 L102.9 166.4 L101.1 168.3 L93.2 168.6 L90.5 166.8 L88.3 163.7 L88.3 160.2 L90.1 156.7 L93.2 154.9 L97.6 153.2 L101.1 152.3 L103.3 150.6 L105.5 149.2 L108.1 149.2 L109.5 150.6 L114.3 151.0 L121.3 149.7 L124.4 149.2 L125.7 151.0 L126.6 148.8 L128.4 148.3 L131.0 149.2 L136.3 150.6 L138.9 152.3 L141.6 152.8 L146.8 156.3 L150.3 156.7 L153.0 157.2 L155.0 158.5"/>
<path d="M150.0 157.2 L153.5 156.7 L155.3 158.9 L157.0 161.1 L157.5 163.3 L157.9 160.2 L160.6 158.9 L163.6 158.0 L164.5 160.7 L167.6 161.1 L170.2 162.4 L173.3 162.9 L173.7 164.6 L175.9 164.2 L176.4 162.0 L179.9 161.5 L183.4 162.4 L186.1 163.3 L190.0 163.0 L190.9 159.8 L192.2 156.7 L195.7 154.9 L197.0 152.3 L200.1 151.0 L208.0 151.2 L211.6 152.8 L216.8 155.4 L223.0 154.9 L225.0 152.8"/>
<path d="M191.3 163.0 L193.1 164.6 L192.6 169.9 L195.3 175.6 L195.3 180.4 L194.0 184.4 L190.0 185.7 L190.4 188.4 L193.5 191.0"/>
<path d="M182.1 164.8 L183.4 166.4 L185.0 165.3 L183.0 164.6 L182.1 164.8"/>
<path d="M186.1 165.5 L187.4 167.3 L188.0 165.9"/>
<path d="M220.0 155.4 L222.6 154.9 L224.4 153.2 L225.7 155.4 L230.6 154.1 L233.6 150.6 L238.5 150.6 L240.2 152.3 L246.4 151.2 L249.9 154.9 L252.5 155.4 L256.1 158.5 L257.8 159.3 L264.0 159.3 L264.8 160.7 L266.6 158.5 L269.2 158.0 L272.8 159.8 L276.3 164.6 L280.7 167.3 L285.1 167.7 L291.2 168.1 L293.9 165.5 L295.0 165.1"/>
<path d="M290.0 168.5 L291.8 167.6 L293.5 165.4 L297.0 164.1 L299.7 164.9 L303.2 166.7 L304.1 169.3 L303.6 172.0 L304.1 177.3 L304.5 180.8 L307.6 185.2 L311.1 187.8 L312.9 189.4 L316.4 188.7 L320.8 187.8 L323.4 186.1 L326.9 185.9 L331.3 186.5 L333.1 187.4 L336.6 188.2 L340.1 186.1 L343.2 183.8 L344.5 184.7 L342.8 186.9 L343.6 188.2 L348.5 188.2 L347.1 190.0 L344.9 191.3 L344.1 193.1 L343.6 195.3 L341.9 195.3 L338.8 194.4 L330.4 194.0 L322.5 192.6 L319.9 192.2 L319.0 195.7 L319.0 200.1 L320.3 201.0 L326.9 200.6 L330.0 201.4 L333.5 200.6 L336.6 203.2 L341.0 204.1 L347.1 204.9 L349.4 204.1 L350.7 206.3 L354.2 207.6 L357.7 204.9 L362.1 204.5 L365.0 206.3"/>
<path d="M343.0 204.9 L348.3 204.5 L349.6 206.3 L350.9 205.4 L353.6 207.6 L356.2 207.2 L358.4 204.5 L362.3 204.5 L364.1 206.3 L368.5 206.7 L372.0 207.6 L373.8 209.8 L378.2 213.3 L380.8 215.1 L387.0 220.8 L389.6 221.7 L394.9 226.1 L396.6 226.5 L398.4 230.0 L396.6 233.5 L390.9 241.0 L390.5 244.9 L386.1 245.4 L383.0 244.5 L381.7 243.6 L380.8 245.8 L379.5 250.0"/>
<path d="M343.0 239.2 L346.5 241.0 L350.9 242.3 L357.9 241.9 L361.5 241.4 L365.9 243.2 L369.4 247.2 L370.7 250.0"/>
<path d="M325.0 241.6 L330.3 241.2 L337.3 240.3 L338.2 238.5 L339.1 239.0 L345.2 239.4 L347.0 241.6 L351.4 242.5 L357.5 242.0 L360.2 241.2 L363.7 242.0 L367.2 243.8 L369.8 247.3 L371.2 250.8 L372.5 253.9 L376.0 253.5 L379.5 253.5 L379.9 250.4 L381.3 243.8 L383.9 245.1 L390.1 245.1 L390.5 241.6 L396.2 235.0"/>
<path d="M255.0 240.4 L258.5 240.4 L261.6 241.7 L262.5 244.3 L262.0 248.3 L262.9 250.5 L265.6 251.8 L263.8 253.6 L268.2 254.0 L271.7 252.4 L287.5 252.4 L292.8 247.4 L295.0 242.2 L299.0 240.4 L304.2 237.8 L306.9 238.2 L314.8 238.2 L316.6 240.4 L318.3 242.2 L319.6 239.5 L322.7 239.1 L324.5 241.3 L330.0 241.3"/>
<path d="M260.0 241.3 L255.3 240.4 L254.0 243.5 L252.7 245.2 L246.6 245.7 L243.0 248.7 L240.4 251.4 L237.8 250.5 L234.2 247.4 L231.6 248.3 L230.3 250.9 L231.6 254.0 L233.4 257.1 L232.5 260.2 L229.0 264.6 L225.0 269.8 L221.1 275.1 L217.5 277.8 L215.8 282.1 L214.4 285.0"/>
<path d="M188.7 186.5 L193.1 190.0 L194.8 191.3 L199.2 193.1 L199.7 194.4 L198.4 196.6 L197.9 198.8 L194.0 199.2 L193.1 202.3 L191.3 203.6 L188.7 205.8 L185.6 206.3 L183.4 208.5 L184.3 209.3 L188.7 208.5 L190.4 211.5 L193.5 213.7 L193.5 219.0 L192.2 221.7 L189.1 223.8 L187.4 227.8 L183.4 228.2 L181.7 227.4 L176.4 228.2 L178.1 230.4 L182.5 235.7 L183.0 239.2 L188.2 243.2 L194.0 245.4 L194.8 246.3 L193.1 250.0"/>
<path d="M130.7 188.2 L129.0 191.3 L128.1 192.6 L129.8 194.4 L130.7 196.6 L133.4 198.8 L131.6 200.6 L128.1 201.0 L127.2 202.8 L129.0 205.4 L132.5 208.9 L136.9 211.1 L140.4 215.5 L143.0 219.0 L147.4 220.8 L150.1 223.4 L155.3 224.3 L157.5 226.5 L155.8 228.7 L156.2 231.3 L154.9 234.4 L150.9 233.5 L143.0 233.5 L139.5 232.6 L137.8 234.0 L136.0 237.9 L132.9 240.1 L129.0 240.6 L123.7 240.6 L120.2 239.7 L114.9 238.4 L111.4 239.2 L107.0 237.0 L104.3 236.2 L98.2 237.5 L95.5 235.3 L90.3 234.8 L85.0 234.8"/>
<path d="M97.3 210.2 L99.5 208.5 L106.1 208.0 L110.5 210.2 L115.8 212.4 L118.4 214.2 L123.7 215.5 L125.5 217.3 L128.5 220.8 L128.1 223.4 L126.8 224.7 L125.5 222.5 L120.2 222.1 L114.9 220.8 L110.5 218.6 L102.6 215.5 L100.0 213.7 L97.3 210.2"/>
<path d="M95.0 235.5 L90.3 234.2 L85.1 234.6 L79.8 235.5 L76.3 236.4 L75.4 235.1 L72.8 233.3 L67.5 233.3 L61.3 232.4 L58.7 230.7 L51.6 229.3 L47.3 225.8 L39.3 225.4 L34.1 226.3 L30.6 227.6 L29.2 229.3 L30.1 231.1 L27.9 236.4 L26.1 240.3 L27.9 243.4 L29.7 246.1 L32.3 248.2 L36.3 249.1 L40.2 247.4 L43.7 247.8 L49.0 250.4 L52.5 253.5 L57.8 257.9 L60.5 262.8 L62.2 265.4 L68.8 265.4 L67.9 262.3 L65.3 260.1 L65.7 257.9 L69.2 255.3 L73.6 253.1 L77.2 251.8 L81.5 252.2 L85.1 251.3 L86.8 250.4 L90.3 250.0 L95.0 251.3"/>
<path d="M71.9 232.0 L73.6 231.1 L80.7 230.4 L81.7 231.5 L79.8 232.4 L74.5 232.9 L71.9 232.0"/>
<path d="M76.3 252.0 L81.5 251.5 L82.0 253.1 L76.7 253.3 L76.3 252.0"/>
<path d="M90.0 250.7 L93.5 250.7 L95.3 252.0 L98.8 253.3 L106.7 253.7 L110.2 255.5 L116.4 256.4 L120.8 257.7 L126.0 258.6 L131.3 256.8 L134.0 255.5 L141.0 255.5 L142.8 256.4 L143.6 253.7 L151.6 252.4 L158.6 252.9 L165.0 253.3"/>
<path d="M155.0 252.8 L159.4 253.6 L166.4 253.2 L168.2 252.3 L173.5 252.3 L176.1 253.6 L181.4 255.4 L184.9 258.9 L188.4 262.0 L191.9 265.5 L195.9 268.6 L196.8 272.5 L198.5 276.1 L197.2 278.7 L195.4 280.4 L198.1 280.9 L201.6 280.4 L205.1 281.8 L207.8 286.6 L210.8 289.7 L213.9 286.6 L215.7 283.1 L217.0 278.2 L220.1 275.2 L224.5 269.9 L230.0 263.7"/>
<path d="M181.4 236.5 L184.9 240.0 L188.0 242.2 L193.7 245.3 L194.6 246.6 L192.8 249.2 L191.1 253.2 L189.7 256.3 L191.9 257.6 L191.9 261.5 L191.1 264.6 L191.9 265.5"/></g></g>
<rect x="428.5" y="61.5" width="405" height="319" fill="none" stroke="#000" stroke-width="1"/>
<rect x="694.5" y="275.5" width="129" height="95" fill="#fff" stroke="#000" stroke-width="1"/>
<text x="710" y="294.5" class="lt">Nr. Days</text>
<rect x="709.5" y="299.5" width="18" height="12" fill="#08c008" stroke="#000" stroke-width="1"/>
<rect x="709.5" y="311.5" width="18" height="12" fill="#33ff44" stroke="#000" stroke-width="1"/>
<rect x="709.5" y="323.5" width="18" height="12" fill="#c8ffd0" stroke="#000" stroke-width="1"/>
<rect x="709.5" y="335.5" width="18" height="12" fill="#e0d000" stroke="#000" stroke-width="1"/>
<rect x="709.5" y="347.5" width="18" height="12" fill="#ffe866" stroke="#000" stroke-width="1"/>
<rect x="761.5" y="299.5" width="18" height="12" fill="#ffffc8" stroke="#000" stroke-width="1"/>
<rect x="761.5" y="311.5" width="18" height="12" fill="#e08000" stroke="#000" stroke-width="1"/>
<rect x="761.5" y="323.5" width="18" height="12" fill="#ffa000" stroke="#000" stroke-width="1"/>
<rect x="761.5" y="335.5" width="18" height="12" fill="#ffc090" stroke="#000" stroke-width="1"/>
<rect x="761.5" y="347.5" width="18" height="12" fill="#ffffff" stroke="#000" stroke-width="1"/>
<text x="734" y="308.8" class="ll">0–2</text>
<text x="734" y="320.8" class="ll">3–5</text>
<text x="734" y="332.8" class="ll">6–8</text>
<text x="734" y="344.8" class="ll">9–11</text>
<text x="734" y="356.8" class="ll">12–14</text>
<text x="784.5" y="308.8" class="ll">15–17</text>
<text x="784.5" y="320.8" class="ll">18–20</text>
<text x="784.5" y="332.8" class="ll">21–23</text>
<text x="784.5" y="344.8" class="ll">24–26</text>
<text x="784.5" y="356.8" class="ll">&gt; 26</text>
<text x="625.7" y="29.7" class="tt" text-anchor="middle" textLength="285" lengthAdjust="spacingAndGlyphs">Maximum Consecutive Dry Days</text>
<text x="624.4" y="52" class="st" text-anchor="middle" textLength="252.5" lengthAdjust="spacingAndGlyphs" xml:space="preserve">in past 30 days, as of  15 Sep. 2010</text>
<rect x="14" y="455" width="404" height="318" fill="#ffffff"/>
<rect x="15" y="456" width="402" height="316" fill="#e4e4e4"/>
<rect x="101" y="455" width="15" height="8" fill="#b4e6fa"/>
<rect x="116" y="455" width="15" height="8" fill="#b4e6fa"/>
<rect x="71" y="463" width="15" height="15" fill="#3cd23c"/>
<rect x="86" y="463" width="15" height="15" fill="#6ee66e"/>
<rect x="101" y="463" width="15" height="15" fill="#6ee66e"/>
<rect x="71" y="478" width="15" height="15" fill="#b4ffb4"/>
<rect x="86" y="478" width="15" height="15" fill="#b4ffb4"/>
<rect x="101" y="478" width="15" height="15" fill="#b4ffb4"/>
<rect x="14" y="493" width="11" height="15" fill="#6ee66e"/>
<rect x="14" y="508" width="11" height="16" fill="#3cd23c"/>
<rect x="25" y="508" width="16" height="16" fill="#6ee66e"/>
<rect x="41" y="508" width="15" height="16" fill="#b4ffb4"/>
<rect x="14" y="524" width="11" height="15" fill="#b4ffb4"/>
<rect x="25" y="524" width="16" height="15" fill="#b4ffb4"/>
<rect x="41" y="524" width="15" height="15" fill="#b4ffb4"/>
<rect x="116" y="524" width="15" height="15" fill="#6ee66e"/>
<rect x="131" y="524" width="15" height="15" fill="#6ee66e"/>
<rect x="86" y="539" width="15" height="15" fill="#6ee66e"/>
<rect x="101" y="539" width="15" height="15" fill="#6ee66e"/>
<rect x="116" y="539" width="15" height="15" fill="#3cd23c"/>
<rect x="131" y="539" width="15" height="15" fill="#b4e6fa"/>
<rect x="146" y="539" width="15" height="15" fill="#78c8f8"/>
<rect x="161" y="539" width="16" height="15" fill="#3cd23c"/>
<rect x="177" y="539" width="15" height="15" fill="#3cd23c"/>
<rect x="192" y="539" width="15" height="15" fill="#3cd23c"/>
<rect x="207" y="539" width="15" height="15" fill="#3cd23c"/>
<rect x="222" y="539" width="15" height="15" fill="#6ee66e"/>
<rect x="237" y="539" width="15" height="15" fill="#3cd23c"/>
<rect x="252" y="539" width="15" height="15" fill="#78c8f8"/>
<rect x="86" y="554" width="15" height="15" fill="#6ee66e"/>
<rect x="101" y="554" width="15" height="15" fill="#3cd23c"/>
<rect x="116" y="554" width="15" height="15" fill="#b4e6fa"/>
<rect x="131" y="554" width="15" height="15" fill="#4496f0"/>
<rect x="146" y="554" width="15" height="15" fill="#4496f0"/>
<rect x="161" y="554" width="16" height="15" fill="#4496f0"/>
<rect x="177" y="554" width="15" height="15" fill="#4496f0"/>
<rect x="192" y="554" width="15" height="15" fill="#2064e0"/>
<rect x="207" y="554" width="15" height="15" fill="#78c8f8"/>
<rect x="222" y="554" width="15" height="15" fill="#3cd23c"/>
<rect x="237" y="554" width="15" height="15" fill="#6ee66e"/>
<rect x="252" y="554" width="15" height="15" fill="#b4e6fa"/>
<rect x="267" y="554" width="15" height="15" fill="#78c8f8"/>
<rect x="282" y="554" width="15" height="15" fill="#4496f0"/>
<rect x="297" y="554" width="15" height="15" fill="#78c8f8"/>
<rect x="116" y="569" width="15" height="15" fill="#78c8f8"/>
<rect x="131" y="569" width="15" height="15" fill="#78c8f8"/>
<rect x="146" y="569" width="15" height="15" fill="#4496f0"/>
<rect x="161" y="569" width="16" height="15" fill="#78c8f8"/>
<rect x="177" y="569" width="15" height="15" fill="#2064e0"/>
<rect x="192" y="569" width="15" height="15" fill="#ffe680"/>
<rect x="207" y="569" width="15" height="15" fill="#2064e0"/>
<rect x="222" y="569" width="15" height="15" fill="#78c8f8"/>
<rect x="237" y="569" width="15" height="15" fill="#b4e6fa"/>
<rect x="252" y="569" width="15" height="15" fill="#b4e6fa"/>
<rect x="267" y="569" width="15" height="15" fill="#78c8f8"/>
<rect x="282" y="569" width="15" height="15" fill="#4496f0"/>
<rect x="297" y="569" width="15" height="15" fill="#2064e0"/>
<rect x="312" y="569" width="16" height="15" fill="#2064e0"/>
<rect x="328" y="569" width="15" height="15" fill="#2064e0"/>
<rect x="343" y="569" width="15" height="15" fill="#78c8f8"/>
<rect x="116" y="584" width="15" height="15" fill="#78c8f8"/>
<rect x="131" y="584" width="15" height="15" fill="#4496f0"/>
<rect x="146" y="584" width="15" height="15" fill="#2064e0"/>
<rect x="161" y="584" width="16" height="15" fill="#2064e0"/>
<rect x="177" y="584" width="15" height="15" fill="#4496f0"/>
<rect x="192" y="584" width="15" height="15" fill="#2064e0"/>
<rect x="207" y="584" width="15" height="15" fill="#2064e0"/>
<rect x="222" y="584" width="15" height="15" fill="#4496f0"/>
<rect x="237" y="584" width="15" height="15" fill="#78c8f8"/>
<rect x="252" y="584" width="15" height="15" fill="#78c8f8"/>
<rect x="267" y="584" width="15" height="15" fill="#4496f0"/>
<rect x="282" y="584" width="15" height="15" fill="#4496f0"/>
<rect x="297" y="584" width="15" height="15" fill="#4496f0"/>
<rect x="312" y="584" width="16" height="15" fill="#78c8f8"/>
<rect x="328" y="584" width="15" height="15" fill="#2064e0"/>
<rect x="343" y="584" width="15" height="15" fill="#2064e0"/>
<rect x="358" y="584" width="15" height="15" fill="#4496f0"/>
<rect x="86" y="599" width="15" height="15" fill="#78c8f8"/>
<rect x="101" y="599" width="15" height="15" fill="#78c8f8"/>
<rect x="116" y="599" width="15" height="15" fill="#78c8f8"/>
<rect x="131" y="599" width="15" height="15" fill="#4496f0"/>
<rect x="146" y="599" width="15" height="15" fill="#2064e0"/>
<rect x="161" y="599" width="16" height="15" fill="#4496f0"/>
<rect x="177" y="599" width="15" height="15" fill="#4496f0"/>
<rect x="192" y="599" width="15" height="15" fill="#4496f0"/>
<rect x="207" y="599" width="15" height="15" fill="#4496f0"/>
<rect x="222" y="599" width="15" height="15" fill="#4496f0"/>
<rect x="237" y="599" width="15" height="15" fill="#4496f0"/>
<rect x="252" y="599" width="15" height="15" fill="#4496f0"/>
<rect x="267" y="599" width="15" height="15" fill="#4496f0"/>
<rect x="282" y="599" width="15" height="15" fill="#4496f0"/>
<rect x="297" y="599" width="15" height="15" fill="#78c8f8"/>
<rect x="312" y="599" width="16" height="15" fill="#78c8f8"/>
<rect x="328" y="599" width="15" height="15" fill="#2064e0"/>
<rect x="343" y="599" width="15" height="15" fill="#4496f0"/>
<rect x="358" y="599" width="15" height="15" fill="#78c8f8"/>
<rect x="373" y="599" width="15" height="15" fill="#78c8f8"/>
<rect x="25" y="614" width="16" height="15" fill="#4496f0"/>
<rect x="41" y="614" width="15" height="15" fill="#4496f0"/>
<rect x="56" y="614" width="15" height="15" fill="#78c8f8"/>
<rect x="71" y="614" width="15" height="15" fill="#78c8f8"/>
<rect x="86" y="614" width="15" height="15" fill="#4496f0"/>
<rect x="101" y="614" width="15" height="15" fill="#78c8f8"/>
<rect x="116" y="614" width="15" height="15" fill="#4496f0"/>
<rect x="131" y="614" width="15" height="15" fill="#4496f0"/>
<rect x="146" y="614" width="15" height="15" fill="#2064e0"/>
<rect x="161" y="614" width="16" height="15" fill="#4496f0"/>
<rect x="177" y="614" width="15" height="15" fill="#4496f0"/>
<rect x="192" y="614" width="15" height="15" fill="#78c8f8"/>
<rect x="207" y="614" width="15" height="15" fill="#78c8f8"/>
<rect x="222" y="614" width="15" height="15" fill="#b4e6fa"/>
<rect x="237" y="614" width="15" height="15" fill="#78c8f8"/>
<rect x="252" y="614" width="15" height="15" fill="#78c8f8"/>
<rect x="267" y="614" width="15" height="15" fill="#78c8f8"/>
<rect x="282" y="614" width="15" height="15" fill="#78c8f8"/>
<rect x="297" y="614" width="15" height="15" fill="#78c8f8"/>
<rect x="312" y="614" width="16" height="15" fill="#b4e6fa"/>
<rect x="328" y="614" width="15" height="15" fill="#78c8f8"/>
<rect x="343" y="614" width="15" height="15" fill="#78c8f8"/>
<rect x="358" y="614" width="15" height="15" fill="#b4e6fa"/>
<rect x="373" y="614" width="15" height="15" fill="#b4e6fa"/>
<rect x="388" y="614" width="15" height="15" fill="#b4e6fa"/>
<rect x="25" y="629" width="16" height="15" fill="#4496f0"/>
<rect x="41" y="629" width="15" height="15" fill="#4496f0"/>
<rect x="56" y="629" width="15" height="15" fill="#78c8f8"/>
<rect x="71" y="629" width="15" height="15" fill="#78c8f8"/>
<rect x="86" y="629" width="15" height="15" fill="#78c8f8"/>
<rect x="101" y="629" width="15" height="15" fill="#78c8f8"/>
<rect x="116" y="629" width="15" height="15" fill="#78c8f8"/>
<rect x="131" y="629" width="15" height="15" fill="#4496f0"/>
<rect x="146" y="629" width="15" height="15" fill="#4496f0"/>
<rect x="161" y="629" width="16" height="15" fill="#4496f0"/>
<rect x="177" y="629" width="15" height="15" fill="#78c8f8"/>
<rect x="192" y="629" width="15" height="15" fill="#3cd23c"/>
<rect x="207" y="629" width="15" height="15" fill="#6ee66e"/>
<rect x="222" y="629" width="15" height="15" fill="#6ee66e"/>
<rect x="237" y="629" width="15" height="15" fill="#3cd23c"/>
<rect x="252" y="629" width="15" height="15" fill="#b4e6fa"/>
<rect x="267" y="629" width="15" height="15" fill="#78c8f8"/>
<rect x="282" y="629" width="15" height="15" fill="#b4e6fa"/>
<rect x="297" y="629" width="15" height="15" fill="#b4e6fa"/>
<rect x="312" y="629" width="16" height="15" fill="#3cd23c"/>
<rect x="328" y="629" width="15" height="15" fill="#3cd23c"/>
<rect x="343" y="629" width="15" height="15" fill="#3cd23c"/>
<rect x="358" y="629" width="15" height="15" fill="#3cd23c"/>
<rect x="373" y="629" width="15" height="15" fill="#3cd23c"/>
<rect x="388" y="629" width="15" height="15" fill="#3cd23c"/>
<rect x="41" y="644" width="15" height="15" fill="#78c8f8"/>
<rect x="56" y="644" width="15" height="15" fill="#b4e6fa"/>
<rect x="71" y="644" width="15" height="15" fill="#b4e6fa"/>
<rect x="86" y="644" width="15" height="15" fill="#78c8f8"/>
<rect x="101" y="644" width="15" height="15" fill="#78c8f8"/>
<rect x="116" y="644" width="15" height="15" fill="#3cd23c"/>
<rect x="131" y="644" width="15" height="15" fill="#b4e6fa"/>
<rect x="146" y="644" width="15" height="15" fill="#b4e6fa"/>
<rect x="161" y="644" width="16" height="15" fill="#b4e6fa"/>
<rect x="177" y="644" width="15" height="15" fill="#3cd23c"/>
<rect x="192" y="644" width="15" height="15" fill="#3cd23c"/>
<rect x="207" y="644" width="15" height="15" fill="#3cd23c"/>
<rect x="222" y="644" width="15" height="15" fill="#3cd23c"/>
<rect x="267" y="644" width="15" height="15" fill="#b4e6fa"/>
<rect x="373" y="644" width="15" height="15" fill="#3cd23c"/>
<rect x="192" y="659" width="15" height="16" fill="#3cd23c"/>
<rect x="207" y="659" width="15" height="16" fill="#78c8f8"/>
<rect x="222" y="659" width="15" height="16" fill="#b4e6fa"/>
<rect x="192" y="675" width="15" height="15" fill="#78c8f8"/>
<rect x="207" y="675" width="15" height="15" fill="#4496f0"/>
<clipPath id="cp3"><rect x="14" y="455" width="404" height="318"/></clipPath>
<g clip-path="url(#cp3)"><g transform="translate(0,393)" fill="none" stroke="#000" stroke-width="1" stroke-linejoin="round" stroke-linecap="round" shape-rendering="crispEdges"><path d="M72.1 83.8 L73.9 81.3 L74.5 79.5 L76.8 79.5 L78.2 78.2 L83.4 74.8 L85.9 74.3 L89.9 73.3 L92.4 71.5 L95.2 75.8 L97.9 77.0 L101.0 77.0 L105.3 75.2 L108.4 72.7 L111.5 66.5 L113.3 65.3 L115.2 65.9 L115.4 70.8 L113.9 74.5 L110.2 78.8 L107.2 83.2 L105.9 86.8 L101.6 87.5 L96.7 88.1 L93.0 89.1 L85.6 89.6 L80.7 89.1 L75.8 90.5 L74.5 88.7 L73.1 85.0 L72.1 83.8"/>
<path d="M11.6 112.7 L13.8 113.4 L15.8 114.1 L17.6 116.2 L19.7 116.9 L21.4 119.7 L23.9 122.5 L25.3 124.3 L28.1 125.3 L30.6 126.7 L32.3 128.1 L33.4 127.1 L37.6 126.7 L39.0 126.2 L41.8 126.6 L44.0 128.1 L46.1 130.2 L47.5 132.7 L46.1 134.5 L44.0 135.9 L41.8 138.0 L41.1 140.1 L40.4 141.5 L37.6 141.5 L35.5 140.7 L31.3 140.4 L29.2 141.5 L25.0 142.2 L18.6 142.2 L11.6 142.2"/>
<path d="M118.2 142.2 L121.3 141.1 L125.7 140.4 L130.1 141.3 L134.5 143.1 L138.0 145.3 L138.5 146.3 L136.3 146.2 L131.0 144.8 L125.7 143.5 L121.3 142.6 L118.2 142.2"/>
<path d="M133.6 200.0 L132.8 198.0 L130.1 196.3 L129.7 193.6 L128.4 192.8 L128.8 191.0 L130.1 189.2 L132.3 188.4 L131.9 186.6 L129.2 185.7 L130.1 184.0 L132.8 183.1 L134.5 182.2 L134.5 179.1 L133.2 178.7 L131.9 179.6 L129.7 178.7 L127.5 175.6 L124.0 174.3 L119.6 172.5 L116.9 169.9 L113.4 169.2 L109.9 167.4 L107.3 168.3 L104.6 166.8 L102.9 166.4 L101.1 168.3 L93.2 168.6 L90.5 166.8 L88.3 163.7 L88.3 160.2 L90.1 156.7 L93.2 154.9 L97.6 153.2 L101.1 152.3 L103.3 150.6 L105.5 149.2 L108.1 149.2 L109.5 150.6 L114.3 151.0 L121.3 149.7 L124.4 149.2 L125.7 151.0 L126.6 148.8 L128.4 148.3 L131.0 149.2 L136.3 150.6 L138.9 152.3 L141.6 152.8 L146.8 156.3 L150.3 156.7 L153.0 157.2 L155.0 158.5"/>
<path d="M150.0 157.2 L153.5 156.7 L155.3 158.9 L157.0 161.1 L157.5 163.3 L157.9 160.2 L160.6 158.9 L163.6 158.0 L164.5 160.7 L167.6 161.1 L170.2 162.4 L173.3 162.9 L173.7 164.6 L175.9 164.2 L176.4 162.0 L179.9 161.5 L183.4 162.4 L186.1 163.3 L190.0 163.0 L190.9 159.8 L192.2 156.7 L195.7 154.9 L197.0 152.3 L200.1 151.0 L208.0 151.2 L211.6 152.8 L216.8 155.4 L223.0 154.9 L225.0 152.8"/>
<path d="M191.3 163.0 L193.1 164.6 L192.6 169.9 L195.3 175.6 L195.3 180.4 L194.0 184.4 L190.0 185.7 L190.4 188.4 L193.5 191.0"/>
<path d="M182.1 164.8 L183.4 166.4 L185.0 165.3 L183.0 164.6 L182.1 164.8"/>
<path d="M186.1 165.5 L187.4 167.3 L188.0 165.9"/>
<path d="M220.0 155.4 L222.6 154.9 L224.4 153.2 L225.7 155.4 L230.6 154.1 L233.6 150.6 L238.5 150.6 L240.2 152.3 L246.4 151.2 L249.9 154.9 L252.5 155.4 L256.1 158.5 L257.8 159.3 L264.0 159.3 L264.8 160.7 L266.6 158.5 L269.2 158.0 L272.8 159.8 L276.3 164.6 L280.7 167.3 L285.1 167.7 L291.2 168.1 L293.9 165.5 L295.0 165.1"/>
<path d="M290.0 168.5 L291.8 167.6 L293.5 165.4 L297.0 164.1 L299.7 164.9 L303.2 166.7 L304.1 169.3 L303.6 172.0 L304.1 177.3 L304.5 180.8 L307.6 185.2 L311.1 187.8 L312.9 189.4 L316.4 188.7 L320.8 187.8 L323.4 186.1 L326.9 185.9 L331.3 186.5 L333.1 187.4 L336.6 188.2 L340.1 186.1 L343.2 183.8 L344.5 184.7 L342.8 186.9 L343.6 188.2 L348.5 188.2 L347.1 190.0 L344.9 191.3 L344.1 193.1 L343.6 195.3 L341.9 195.3 L338.8 194.4 L330.4 194.0 L322.5 192.6 L319.9 192.2 L319.0 195.7 L319.0 200.1 L320.3 201.0 L326.9 200.6 L330.0 201.4 L333.5 200.6 L336.6 203.2 L341.0 204.1 L347.1 204.9 L349.4 204.1 L350.7 206.3 L354.2 207.6 L357.7 204.9 L362.1 204.5 L365.0 206.3"/>
<path d="M343.0 204.9 L348.3 204.5 L349.6 206.3 L350.9 205.4 L353.6 207.6 L356.2 207.2 L358.4 204.5 L362.3 204.5 L364.1 206.3 L368.5 206.7 L372.0 207.6 L373.8 209.8 L378.2 213.3 L380.8 215.1 L387.0 220.8 L389.6 221.7 L394.9 226.1 L396.6 226.5 L398.4 230.0 L396.6 233.5 L390.9 241.0 L390.5 244.9 L386.1 245.4 L383.0 244.5 L381.7 243.6 L380.8 245.8 L379.5 250.0"/>
<path d="M343.0 239.2 L346.5 241.0 L350.9 242.3 L357.9 241.9 L361.5 241.4 L365.9 243.2 L369.4 247.2 L370.7 250.0"/>
<path d="M325.0 241.6 L330.3 241.2 L337.3 240.3 L338.2 238.5 L339.1 239.0 L345.2 239.4 L347.0 241.6 L351.4 242.5 L357.5 242.0 L360.2 241.2 L363.7 242.0 L367.2 243.8 L369.8 247.3 L371.2 250.8 L372.5 253.9 L376.0 253.5 L379.5 253.5 L379.9 250.4 L381.3 243.8 L383.9 245.1 L390.1 245.1 L390.5 241.6 L396.2 235.0"/>
<path d="M255.0 240.4 L258.5 240.4 L261.6 241.7 L262.5 244.3 L262.0 248.3 L262.9 250.5 L265.6 251.8 L263.8 253.6 L268.2 254.0 L271.7 252.4 L287.5 252.4 L292.8 247.4 L295.0 242.2 L299.0 240.4 L304.2 237.8 L306.9 238.2 L314.8 238.2 L316.6 240.4 L318.3 242.2 L319.6 239.5 L322.7 239.1 L324.5 241.3 L330.0 241.3"/>
<path d="M260.0 241.3 L255.3 240.4 L254.0 243.5 L252.7 245.2 L246.6 245.7 L243.0 248.7 L240.4 251.4 L237.8 250.5 L234.2 247.4 L231.6 248.3 L230.3 250.9 L231.6 254.0 L233.4 257.1 L232.5 260.2 L229.0 264.6 L225.0 269.8 L221.1 275.1 L217.5 277.8 L215.8 282.1 L214.4 285.0"/>
<path d="M188.7 186.5 L193.1 190.0 L194.8 191.3 L199.2 193.1 L199.7 194.4 L198.4 196.6 L197.9 198.8 L194.0 199.2 L193.1 202.3 L191.3 203.6 L188.7 205.8 L185.6 206.3 L183.4 208.5 L184.3 209.3 L188.7 208.5 L190.4 211.5 L193.5 213.7 L193.5 219.0 L192.2 221.7 L189.1 223.8 L187.4 227.8 L183.4 228.2 L181.7 227.4 L176.4 228.2 L178.1 230.4 L182.5 235.7 L183.0 239.2 L188.2 243.2 L194.0 245.4 L194.8 246.3 L193.1 250.0"/>
<path d="M130.7 188.2 L129.0 191.3 L128.1 192.6 L129.8 194.4 L130.7 196.6 L133.4 198.8 L131.6 200.6 L128.1 201.0 L127.2 202.8 L129.0 205.4 L132.5 208.9 L136.9 211.1 L140.4 215.5 L143.0 219.0 L147.4 220.8 L150.1 223.4 L155.3 224.3 L157.5 226.5 L155.8 228.7 L156.2 231.3 L154.9 234.4 L150.9 233.5 L143.0 233.5 L139.5 232.6 L137.8 234.0 L136.0 237.9 L132.9 240.1 L129.0 240.6 L123.7 240.6 L120.2 239.7 L114.9 238.4 L111.4 239.2 L107.0 237.0 L104.3 236.2 L98.2 237.5 L95.5 235.3 L90.3 234.8 L85.0 234.8"/>
<path d="M97.3 210.2 L99.5 208.5 L106.1 208.0 L110.5 210.2 L115.8 212.4 L118.4 214.2 L123.7 215.5 L125.5 217.3 L128.5 220.8 L128.1 223.4 L126.8 224.7 L125.5 222.5 L120.2 222.1 L114.9 220.8 L110.5 218.6 L102.6 215.5 L100.0 213.7 L97.3 210.2"/>
<path d="M95.0 235.5 L90.3 234.2 L85.1 234.6 L79.8 235.5 L76.3 236.4 L75.4 235.1 L72.8 233.3 L67.5 233.3 L61.3 232.4 L58.7 230.7 L51.6 229.3 L47.3 225.8 L39.3 225.4 L34.1 226.3 L30.6 227.6 L29.2 229.3 L30.1 231.1 L27.9 236.4 L26.1 240.3 L27.9 243.4 L29.7 246.1 L32.3 248.2 L36.3 249.1 L40.2 247.4 L43.7 247.8 L49.0 250.4 L52.5 253.5 L57.8 257.9 L60.5 262.8 L62.2 265.4 L68.8 265.4 L67.9 262.3 L65.3 260.1 L65.7 257.9 L69.2 255.3 L73.6 253.1 L77.2 251.8 L81.5 252.2 L85.1 251.3 L86.8 250.4 L90.3 250.0 L95.0 251.3"/>
<path d="M71.9 232.0 L73.6 231.1 L80.7 230.4 L81.7 231.5 L79.8 232.4 L74.5 232.9 L71.9 232.0"/>
<path d="M76.3 252.0 L81.5 251.5 L82.0 253.1 L76.7 253.3 L76.3 252.0"/>
<path d="M90.0 250.7 L93.5 250.7 L95.3 252.0 L98.8 253.3 L106.7 253.7 L110.2 255.5 L116.4 256.4 L120.8 257.7 L126.0 258.6 L131.3 256.8 L134.0 255.5 L141.0 255.5 L142.8 256.4 L143.6 253.7 L151.6 252.4 L158.6 252.9 L165.0 253.3"/>
<path d="M155.0 252.8 L159.4 253.6 L166.4 253.2 L168.2 252.3 L173.5 252.3 L176.1 253.6 L181.4 255.4 L184.9 258.9 L188.4 262.0 L191.9 265.5 L195.9 268.6 L196.8 272.5 L198.5 276.1 L197.2 278.7 L195.4 280.4 L198.1 280.9 L201.6 280.4 L205.1 281.8 L207.8 286.6 L210.8 289.7 L213.9 286.6 L215.7 283.1 L217.0 278.2 L220.1 275.2 L224.5 269.9 L230.0 263.7"/>
<path d="M181.4 236.5 L184.9 240.0 L188.0 242.2 L193.7 245.3 L194.6 246.6 L192.8 249.2 L191.1 253.2 L189.7 256.3 L191.9 257.6 L191.9 261.5 L191.1 264.6 L191.9 265.5"/></g></g>
<rect x="13.5" y="454.5" width="405" height="319" fill="none" stroke="#000" stroke-width="1"/>
<rect x="251.5" y="656.5" width="157" height="107" fill="#fff" stroke="#000" stroke-width="1"/>
<text x="267" y="675.5" class="lt">Rainfall (mm)</text>
<rect x="266.5" y="680.5" width="18" height="12" fill="#ffffff" stroke="#000" stroke-width="1"/>
<rect x="266.5" y="692.5" width="18" height="12" fill="#f0d8b4" stroke="#000" stroke-width="1"/>
<rect x="266.5" y="704.5" width="18" height="12" fill="#b4ffb4" stroke="#000" stroke-width="1"/>
<rect x="266.5" y="716.5" width="18" height="12" fill="#6ee66e" stroke="#000" stroke-width="1"/>
<rect x="266.5" y="728.5" width="18" height="12" fill="#3cd23c" stroke="#000" stroke-width="1"/>
<rect x="266.5" y="740.5" width="18" height="12" fill="#b4e6fa" stroke="#000" stroke-width="1"/>
<rect x="330.5" y="680.5" width="18" height="12" fill="#78c8f8" stroke="#000" stroke-width="1"/>
<rect x="330.5" y="692.5" width="18" height="12" fill="#4496f0" stroke="#000" stroke-width="1"/>
<rect x="330.5" y="704.5" width="18" height="12" fill="#2064e0" stroke="#000" stroke-width="1"/>
<rect x="330.5" y="716.5" width="18" height="12" fill="#ffe680" stroke="#000" stroke-width="1"/>
<rect x="330.5" y="728.5" width="18" height="12" fill="#ffa000" stroke="#000" stroke-width="1"/>
<rect x="330.5" y="740.5" width="18" height="12" fill="#ff3200" stroke="#000" stroke-width="1"/>
<text x="302.5" y="689.8" class="ll" text-anchor="middle">&lt; 1</text>
<text x="299.2" y="701.8" class="ll" text-anchor="middle">1</text>
<text x="317" y="701.8" class="ll" text-anchor="middle">10</text>
<text x="299.2" y="713.8" class="ll" text-anchor="middle">10</text>
<text x="317" y="713.8" class="ll" text-anchor="middle">25</text>
<text x="299.2" y="725.8" class="ll" text-anchor="middle">25</text>
<text x="317" y="725.8" class="ll" text-anchor="middle">50</text>
<text x="299.2" y="737.8" class="ll" text-anchor="middle">50</text>
<text x="317" y="737.8" class="ll" text-anchor="middle">75</text>
<text x="299.2" y="749.8" class="ll" text-anchor="middle">75</text>
<text x="317" y="749.8" class="ll" text-anchor="middle">100</text>
<text x="363.7" y="689.8" class="ll" text-anchor="middle">100</text>
<text x="384.4" y="689.8" class="ll" text-anchor="middle">150</text>
<text x="363.7" y="701.8" class="ll" text-anchor="middle">150</text>
<text x="384.4" y="701.8" class="ll" text-anchor="middle">200</text>
<text x="363.7" y="713.8" class="ll" text-anchor="middle">200</text>
<text x="384.4" y="713.8" class="ll" text-anchor="middle">300</text>
<text x="363.7" y="725.8" class="ll" text-anchor="middle">300</text>
<text x="384.4" y="725.8" class="ll" text-anchor="middle">400</text>
<text x="363.7" y="737.8" class="ll" text-anchor="middle">400</text>
<text x="384.4" y="737.8" class="ll" text-anchor="middle">600</text>
<text x="369.8" y="749.8" class="ll" text-anchor="middle">&gt; 600</text>
<text x="211.9" y="422.7" class="tt" text-anchor="middle" textLength="237.8" lengthAdjust="spacingAndGlyphs">Total Accumulated Rainfall</text>
<text x="208.7" y="445" class="st" text-anchor="middle" textLength="252.5" lengthAdjust="spacingAndGlyphs" xml:space="preserve">in past 30 days, as of  15 Sep. 2010</text>
<rect x="429" y="455" width="404" height="318" fill="#ffffff"/>
<rect x="430" y="456" width="402" height="316" fill="#e4e4e4"/>
<rect x="516" y="455" width="15" height="8" fill="#33ff44"/>
<rect x="531" y="455" width="15" height="8" fill="#33ff44"/>
<rect x="486" y="463" width="15" height="15" fill="#08c008"/>
<rect x="501" y="463" width="15" height="15" fill="#33ff44"/>
<rect x="516" y="463" width="15" height="15" fill="#33ff44"/>
<rect x="486" y="478" width="15" height="15" fill="#33ff44"/>
<rect x="501" y="478" width="15" height="15" fill="#33ff44"/>
<rect x="516" y="478" width="15" height="15" fill="#33ff44"/>
<rect x="429" y="493" width="11" height="15" fill="#c8ffd0"/>
<rect x="429" y="508" width="11" height="16" fill="#33ff44"/>
<rect x="440" y="508" width="16" height="16" fill="#33ff44"/>
<rect x="456" y="508" width="15" height="16" fill="#c8ffd0"/>
<rect x="429" y="524" width="11" height="15" fill="#c8ffd0"/>
<rect x="440" y="524" width="16" height="15" fill="#33ff44"/>
<rect x="456" y="524" width="15" height="15" fill="#c8ffd0"/>
<rect x="531" y="524" width="15" height="15" fill="#33ff44"/>
<rect x="546" y="524" width="15" height="15" fill="#33ff44"/>
<rect x="501" y="539" width="15" height="15" fill="#33ff44"/>
<rect x="516" y="539" width="15" height="15" fill="#33ff44"/>
<rect x="531" y="539" width="15" height="15" fill="#33ff44"/>
<rect x="546" y="539" width="15" height="15" fill="#33ff44"/>
<rect x="561" y="539" width="15" height="15" fill="#33ff44"/>
<rect x="576" y="539" width="16" height="15" fill="#33ff44"/>
<rect x="592" y="539" width="15" height="15" fill="#33ff44"/>
<rect x="607" y="539" width="15" height="15" fill="#08c008"/>
<rect x="622" y="539" width="15" height="15" fill="#33ff44"/>
<rect x="637" y="539" width="15" height="15" fill="#33ff44"/>
<rect x="652" y="539" width="15" height="15" fill="#33ff44"/>
<rect x="667" y="539" width="15" height="15" fill="#c8ffd0"/>
<rect x="501" y="554" width="15" height="15" fill="#33ff44"/>
<rect x="516" y="554" width="15" height="15" fill="#33ff44"/>
<rect x="531" y="554" width="15" height="15" fill="#33ff44"/>
<rect x="546" y="554" width="15" height="15" fill="#33ff44"/>
<rect x="561" y="554" width="15" height="15" fill="#33ff44"/>
<rect x="576" y="554" width="16" height="15" fill="#33ff44"/>
<rect x="592" y="554" width="15" height="15" fill="#33ff44"/>
<rect x="607" y="554" width="15" height="15" fill="#33ff44"/>
<rect x="622" y="554" width="15" height="15" fill="#33ff44"/>
<rect x="637" y="554" width="15" height="15" fill="#33ff44"/>
<rect x="652" y="554" width="15" height="15" fill="#33ff44"/>
<rect x="667" y="554" width="15" height="15" fill="#08c008"/>
<rect x="682" y="554" width="15" height="15" fill="#c8ffd0"/>
<rect x="697" y="554" width="15" height="15" fill="#08c008"/>
<rect x="712" y="554" width="15" height="15" fill="#c8ffd0"/>
<rect x="531" y="569" width="15" height="15" fill="#33ff44"/>
<rect x="546" y="569" width="15" height="15" fill="#08c008"/>
<rect x="561" y="569" width="15" height="15" fill="#33ff44"/>
<rect x="576" y="569" width="16" height="15" fill="#33ff44"/>
<rect x="592" y="569" width="15" height="15" fill="#33ff44"/>
<rect x="607" y="569" width="15" height="15" fill="#33ff44"/>
<rect x="622" y="569" width="15" height="15" fill="#33ff44"/>
<rect x="637" y="569" width="15" height="15" fill="#33ff44"/>
<rect x="652" y="569" width="15" height="15" fill="#33ff44"/>
<rect x="667" y="569" width="15" height="15" fill="#08c008"/>
<rect x="682" y="569" width="15" height="15" fill="#08c008"/>
<rect x="697" y="569" width="15" height="15" fill="#c8ffd0"/>
<rect x="712" y="569" width="15" height="15" fill="#c8ffd0"/>
<rect x="727" y="569" width="16" height="15" fill="#c8ffd0"/>
<rect x="743" y="569" width="15" height="15" fill="#c8ffd0"/>
<rect x="758" y="569" width="15" height="15" fill="#c8ffd0"/>
<rect x="531" y="584" width="15" height="15" fill="#08c008"/>
<rect x="546" y="584" width="15" height="15" fill="#08c008"/>
<rect x="561" y="584" width="15" height="15" fill="#08c008"/>
<rect x="576" y="584" width="16" height="15" fill="#08c008"/>
<rect x="592" y="584" width="15" height="15" fill="#33ff44"/>
<rect x="607" y="584" width="15" height="15" fill="#33ff44"/>
<rect x="622" y="584" width="15" height="15" fill="#33ff44"/>
<rect x="637" y="584" width="15" height="15" fill="#08c008"/>
<rect x="652" y="584" width="15" height="15" fill="#33ff44"/>
<rect x="667" y="584" width="15" height="15" fill="#33ff44"/>
<rect x="682" y="584" width="15" height="15" fill="#c8ffd0"/>
<rect x="697" y="584" width="15" height="15" fill="#c8ffd0"/>
<rect x="712" y="584" width="15" height="15" fill="#c8ffd0"/>
<rect x="727" y="584" width="16" height="15" fill="#c8ffd0"/>
<rect x="743" y="584" width="15" height="15" fill="#c8ffd0"/>
<rect x="758" y="584" width="15" height="15" fill="#c8ffd0"/>
<rect x="773" y="584" width="15" height="15" fill="#c8ffd0"/>
<rect x="501" y="599" width="15" height="15" fill="#33ff44"/>
<rect x="516" y="599" width="15" height="15" fill="#08c008"/>
<rect x="531" y="599" width="15" height="15" fill="#08c008"/>
<rect x="546" y="599" width="15" height="15" fill="#08c008"/>
<rect x="561" y="599" width="15" height="15" fill="#08c008"/>
<rect x="576" y="599" width="16" height="15" fill="#08c008"/>
<rect x="592" y="599" width="15" height="15" fill="#08c008"/>
<rect x="607" y="599" width="15" height="15" fill="#08c008"/>
<rect x="622" y="599" width="15" height="15" fill="#08c008"/>
<rect x="637" y="599" width="15" height="15" fill="#08c008"/>
<rect x="652" y="599" width="15" height="15" fill="#33ff44"/>
<rect x="667" y="599" width="15" height="15" fill="#c8ffd0"/>
<rect x="682" y="599" width="15" height="15" fill="#c8ffd0"/>
<rect x="697" y="599" width="15" height="15" fill="#c8ffd0"/>
<rect x="712" y="599" width="15" height="15" fill="#08c008"/>
<rect x="727" y="599" width="16" height="15" fill="#c8ffd0"/>
<rect x="743" y="599" width="15" height="15" fill="#c8ffd0"/>
<rect x="758" y="599" width="15" height="15" fill="#c8ffd0"/>
<rect x="773" y="599" width="15" height="15" fill="#c8ffd0"/>
<rect x="788" y="599" width="15" height="15" fill="#08c008"/>
<rect x="440" y="614" width="16" height="15" fill="#33ff44"/>
<rect x="456" y="614" width="15" height="15" fill="#33ff44"/>
<rect x="471" y="614" width="15" height="15" fill="#e0d000"/>
<rect x="486" y="614" width="15" height="15" fill="#ffe866"/>
<rect x="501" y="614" width="15" height="15" fill="#33ff44"/>
<rect x="516" y="614" width="15" height="15" fill="#08c008"/>
<rect x="531" y="614" width="15" height="15" fill="#e0d000"/>
<rect x="546" y="614" width="15" height="15" fill="#08c008"/>
<rect x="561" y="614" width="15" height="15" fill="#08c008"/>
<rect x="576" y="614" width="16" height="15" fill="#08c008"/>
<rect x="592" y="614" width="15" height="15" fill="#08c008"/>
<rect x="607" y="614" width="15" height="15" fill="#08c008"/>
<rect x="622" y="614" width="15" height="15" fill="#08c008"/>
<rect x="637" y="614" width="15" height="15" fill="#33ff44"/>
<rect x="652" y="614" width="15" height="15" fill="#33ff44"/>
<rect x="667" y="614" width="15" height="15" fill="#c8ffd0"/>
<rect x="682" y="614" width="15" height="15" fill="#c8ffd0"/>
<rect x="697" y="614" width="15" height="15" fill="#08c008"/>
<rect x="712" y="614" width="15" height="15" fill="#08c008"/>
<rect x="727" y="614" width="16" height="15" fill="#33ff44"/>
<rect x="743" y="614" width="15" height="15" fill="#33ff44"/>
<rect x="758" y="614" width="15" height="15" fill="#c8ffd0"/>
<rect x="773" y="614" width="15" height="15" fill="#c8ffd0"/>
<rect x="788" y="614" width="15" height="15" fill="#c8ffd0"/>
<rect x="803" y="614" width="15" height="15" fill="#c8ffd0"/>
<rect x="440" y="629" width="16" height="15" fill="#c8ffd0"/>
<rect x="456" y="629" width="15" height="15" fill="#33ff44"/>
<rect x="471" y="629" width="15" height="15" fill="#33ff44"/>
<rect x="486" y="629" width="15" height="15" fill="#c8ffd0"/>
<rect x="501" y="629" width="15" height="15" fill="#c8ffd0"/>
<rect x="516" y="629" width="15" height="15" fill="#c8ffd0"/>
<rect x="531" y="629" width="15" height="15" fill="#c8ffd0"/>
<rect x="546" y="629" width="15" height="15" fill="#33ff44"/>
<rect x="561" y="629" width="15" height="15" fill="#08c008"/>
<rect x="576" y="629" width="16" height="15" fill="#08c008"/>
<rect x="592" y="629" width="15" height="15" fill="#08c008"/>
<rect x="607" y="629" width="15" height="15" fill="#08c008"/>
<rect x="622" y="629" width="15" height="15" fill="#c8ffd0"/>
<rect x="637" y="629" width="15" height="15" fill="#c8ffd0"/>
<rect x="652" y="629" width="15" height="15" fill="#c8ffd0"/>
<rect x="667" y="629" width="15" height="15" fill="#c8ffd0"/>
<rect x="682" y="629" width="15" height="15" fill="#c8ffd0"/>
<rect x="697" y="629" width="15" height="15" fill="#c8ffd0"/>
<rect x="712" y="629" width="15" height="15" fill="#c8ffd0"/>
<rect x="727" y="629" width="16" height="15" fill="#c8ffd0"/>
<rect x="743" y="629" width="15" height="15" fill="#c8ffd0"/>
<rect x="758" y="629" width="15" height="15" fill="#c8ffd0"/>
<rect x="773" y="629" width="15" height="15" fill="#c8ffd0"/>
<rect x="788" y="629" width="15" height="15" fill="#33ff44"/>
<rect x="803" y="629" width="15" height="15" fill="#c8ffd0"/>
<rect x="456" y="644" width="15" height="15" fill="#33ff44"/>
<rect x="471" y="644" width="15" height="15" fill="#c8ffd0"/>
<rect x="486" y="644" width="15" height="15" fill="#ffe866"/>
<rect x="501" y="644" width="15" height="15" fill="#33ff44"/>
<rect x="516" y="644" width="15" height="15" fill="#c8ffd0"/>
<rect x="531" y="644" width="15" height="15" fill="#c8ffd0"/>
<rect x="546" y="644" width="15" height="15" fill="#08c008"/>
<rect x="561" y="644" width="15" height="15" fill="#08c008"/>
<rect x="576" y="644" width="16" height="15" fill="#08c008"/>
<rect x="592" y="644" width="15" height="15" fill="#c8ffd0"/>
<rect x="607" y="644" width="15" height="15" fill="#c8ffd0"/>
<rect x="622" y="644" width="15" height="15" fill="#c8ffd0"/>
<rect x="637" y="644" width="15" height="15" fill="#33ff44"/>
<rect x="682" y="644" width="15" height="15" fill="#33ff44"/>
<rect x="788" y="644" width="15" height="15" fill="#c8ffd0"/>
<rect x="607" y="659" width="15" height="16" fill="#33ff44"/>
<rect x="622" y="659" width="15" height="16" fill="#08c008"/>
<rect x="637" y="659" width="15" height="16" fill="#c8ffd0"/>
<rect x="607" y="675" width="15" height="15" fill="#33ff44"/>
<rect x="622" y="675" width="15" height="15" fill="#08c008"/>
<clipPath id="cp4"><rect x="429" y="455" width="404" height="318"/></clipPath>
<g clip-path="url(#cp4)"><g transform="translate(415,393)" fill="none" stroke="#000" stroke-width="1" stroke-linejoin="round" stroke-linecap="round" shape-rendering="crispEdges"><path d="M72.1 83.8 L73.9 81.3 L74.5 79.5 L76.8 79.5 L78.2 78.2 L83.4 74.8 L85.9 74.3 L89.9 73.3 L92.4 71.5 L95.2 75.8 L97.9 77.0 L101.0 77.0 L105.3 75.2 L108.4 72.7 L111.5 66.5 L113.3 65.3 L115.2 65.9 L115.4 70.8 L113.9 74.5 L110.2 78.8 L107.2 83.2 L105.9 86.8 L101.6 87.5 L96.7 88.1 L93.0 89.1 L85.6 89.6 L80.7 89.1 L75.8 90.5 L74.5 88.7 L73.1 85.0 L72.1 83.8"/>
<path d="M11.6 112.7 L13.8 113.4 L15.8 114.1 L17.6 116.2 L19.7 116.9 L21.4 119.7 L23.9 122.5 L25.3 124.3 L28.1 125.3 L30.6 126.7 L32.3 128.1 L33.4 127.1 L37.6 126.7 L39.0 126.2 L41.8 126.6 L44.0 128.1 L46.1 130.2 L47.5 132.7 L46.1 134.5 L44.0 135.9 L41.8 138.0 L41.1 140.1 L40.4 141.5 L37.6 141.5 L35.5 140.7 L31.3 140.4 L29.2 141.5 L25.0 142.2 L18.6 142.2 L11.6 142.2"/>
<path d="M118.2 142.2 L121.3 141.1 L125.7 140.4 L130.1 141.3 L134.5 143.1 L138.0 145.3 L138.5 146.3 L136.3 146.2 L131.0 144.8 L125.7 143.5 L121.3 142.6 L118.2 142.2"/>
<path d="M133.6 200.0 L132.8 198.0 L130.1 196.3 L129.7 193.6 L128.4 192.8 L128.8 191.0 L130.1 189.2 L132.3 188.4 L131.9 186.6 L129.2 185.7 L130.1 184.0 L132.8 183.1 L134.5 182.2 L134.5 179.1 L133.2 178.7 L131.9 179.6 L129.7 178.7 L127.5 175.6 L124.0 174.3 L119.6 172.5 L116.9 169.9 L113.4 169.2 L109.9 167.4 L107.3 168.3 L104.6 166.8 L102.9 166.4 L101.1 168.3 L93.2 168.6 L90.5 166.8 L88.3 163.7 L88.3 160.2 L90.1 156.7 L93.2 154.9 L97.6 153.2 L101.1 152.3 L103.3 150.6 L105.5 149.2 L108.1 149.2 L109.5 150.6 L114.3 151.0 L121.3 149.7 L124.4 149.2 L125.7 151.0 L126.6 148.8 L128.4 148.3 L131.0 149.2 L136.3 150.6 L138.9 152.3 L141.6 152.8 L146.8 156.3 L150.3 156.7 L153.0 157.2 L155.0 158.5"/>
<path d="M150.0 157.2 L153.5 156.7 L155.3 158.9 L157.0 161.1 L157.5 163.3 L157.9 160.2 L160.6 158.9 L163.6 158.0 L164.5 160.7 L167.6 161.1 L170.2 162.4 L173.3 162.9 L173.7 164.6 L175.9 164.2 L176.4 162.0 L179.9 161.5 L183.4 162.4 L186.1 163.3 L190.0 163.0 L190.9 159.8 L192.2 156.7 L195.7 154.9 L197.0 152.3 L200.1 151.0 L208.0 151.2 L211.6 152.8 L216.8 155.4 L223.0 154.9 L225.0 152.8"/>
<path d="M191.3 163.0 L193.1 164.6 L192.6 169.9 L195.3 175.6 L195.3 180.4 L194.0 184.4 L190.0 185.7 L190.4 188.4 L193.5 191.0"/>
<path d="M182.1 164.8 L183.4 166.4 L185.0 165.3 L183.0 164.6 L182.1 164.8"/>
<path d="M186.1 165.5 L187.4 167.3 L188.0 165.9"/>
<path d="M220.0 155.4 L222.6 154.9 L224.4 153.2 L225.7 155.4 L230.6 154.1 L233.6 150.6 L238.5 150.6 L240.2 152.3 L246.4 151.2 L249.9 154.9 L252.5 155.4 L256.1 158.5 L257.8 159.3 L264.0 159.3 L264.8 160.7 L266.6 158.5 L269.2 158.0 L272.8 159.8 L276.3 164.6 L280.7 167.3 L285.1 167.7 L291.2 168.1 L293.9 165.5 L295.0 165.1"/>
<path d="M290.0 168.5 L291.8 167.6 L293.5 165.4 L297.0 164.1 L299.7 164.9 L303.2 166.7 L304.1 169.3 L303.6 172.0 L304.1 177.3 L304.5 180.8 L307.6 185.2 L311.1 187.8 L312.9 189.4 L316.4 188.7 L320.8 187.8 L323.4 186.1 L326.9 185.9 L331.3 186.5 L333.1 187.4 L336.6 188.2 L340.1 186.1 L343.2 183.8 L344.5 184.7 L342.8 186.9 L343.6 188.2 L348.5 188.2 L347.1 190.0 L344.9 191.3 L344.1 193.1 L343.6 195.3 L341.9 195.3 L338.8 194.4 L330.4 194.0 L322.5 192.6 L319.9 192.2 L319.0 195.7 L319.0 200.1 L320.3 201.0 L326.9 200.6 L330.0 201.4 L333.5 200.6 L336.6 203.2 L341.0 204.1 L347.1 204.9 L349.4 204.1 L350.7 206.3 L354.2 207.6 L357.7 204.9 L362.1 204.5 L365.0 206.3"/>
<path d="M343.0 204.9 L348.3 204.5 L349.6 206.3 L350.9 205.4 L353.6 207.6 L356.2 207.2 L358.4 204.5 L362.3 204.5 L364.1 206.3 L368.5 206.7 L372.0 207.6 L373.8 209.8 L378.2 213.3 L380.8 215.1 L387.0 220.8 L389.6 221.7 L394.9 226.1 L396.6 226.5 L398.4 230.0 L396.6 233.5 L390.9 241.0 L390.5 244.9 L386.1 245.4 L383.0 244.5 L381.7 243.6 L380.8 245.8 L379.5 250.0"/>
<path d="M343.0 239.2 L346.5 241.0 L350.9 242.3 L357.9 241.9 L361.5 241.4 L365.9 243.2 L369.4 247.2 L370.7 250.0"/>
<path d="M325.0 241.6 L330.3 241.2 L337.3 240.3 L338.2 238.5 L339.1 239.0 L345.2 239.4 L347.0 241.6 L351.4 242.5 L357.5 242.0 L360.2 241.2 L363.7 242.0 L367.2 243.8 L369.8 247.3 L371.2 250.8 L372.5 253.9 L376.0 253.5 L379.5 253.5 L379.9 250.4 L381.3 243.8 L383.9 245.1 L390.1 245.1 L390.5 241.6 L396.2 235.0"/>
<path d="M255.0 240.4 L258.5 240.4 L261.6 241.7 L262.5 244.3 L262.0 248.3 L262.9 250.5 L265.6 251.8 L263.8 253.6 L268.2 254.0 L271.7 252.4 L287.5 252.4 L292.8 247.4 L295.0 242.2 L299.0 240.4 L304.2 237.8 L306.9 238.2 L314.8 238.2 L316.6 240.4 L318.3 242.2 L319.6 239.5 L322.7 239.1 L324.5 241.3 L330.0 241.3"/>
<path d="M260.0 241.3 L255.3 240.4 L254.0 243.5 L252.7 245.2 L246.6 245.7 L243.0 248.7 L240.4 251.4 L237.8 250.5 L234.2 247.4 L231.6 248.3 L230.3 250.9 L231.6 254.0 L233.4 257.1 L232.5 260.2 L229.0 264.6 L225.0 269.8 L221.1 275.1 L217.5 277.8 L215.8 282.1 L214.4 285.0"/>
<path d="M188.7 186.5 L193.1 190.0 L194.8 191.3 L199.2 193.1 L199.7 194.4 L198.4 196.6 L197.9 198.8 L194.0 199.2 L193.1 202.3 L191.3 203.6 L188.7 205.8 L185.6 206.3 L183.4 208.5 L184.3 209.3 L188.7 208.5 L190.4 211.5 L193.5 213.7 L193.5 219.0 L192.2 221.7 L189.1 223.8 L187.4 227.8 L183.4 228.2 L181.7 227.4 L176.4 228.2 L178.1 230.4 L182.5 235.7 L183.0 239.2 L188.2 243.2 L194.0 245.4 L194.8 246.3 L193.1 250.0"/>
<path d="M130.7 188.2 L129.0 191.3 L128.1 192.6 L129.8 194.4 L130.7 196.6 L133.4 198.8 L131.6 200.6 L128.1 201.0 L127.2 202.8 L129.0 205.4 L132.5 208.9 L136.9 211.1 L140.4 215.5 L143.0 219.0 L147.4 220.8 L150.1 223.4 L155.3 224.3 L157.5 226.5 L155.8 228.7 L156.2 231.3 L154.9 234.4 L150.9 233.5 L143.0 233.5 L139.5 232.6 L137.8 234.0 L136.0 237.9 L132.9 240.1 L129.0 240.6 L123.7 240.6 L120.2 239.7 L114.9 238.4 L111.4 239.2 L107.0 237.0 L104.3 236.2 L98.2 237.5 L95.5 235.3 L90.3 234.8 L85.0 234.8"/>
<path d="M97.3 210.2 L99.5 208.5 L106.1 208.0 L110.5 210.2 L115.8 212.4 L118.4 214.2 L123.7 215.5 L125.5 217.3 L128.5 220.8 L128.1 223.4 L126.8 224.7 L125.5 222.5 L120.2 222.1 L114.9 220.8 L110.5 218.6 L102.6 215.5 L100.0 213.7 L97.3 210.2"/>
<path d="M95.0 235.5 L90.3 234.2 L85.1 234.6 L79.8 235.5 L76.3 236.4 L75.4 235.1 L72.8 233.3 L67.5 233.3 L61.3 232.4 L58.7 230.7 L51.6 229.3 L47.3 225.8 L39.3 225.4 L34.1 226.3 L30.6 227.6 L29.2 229.3 L30.1 231.1 L27.9 236.4 L26.1 240.3 L27.9 243.4 L29.7 246.1 L32.3 248.2 L36.3 249.1 L40.2 247.4 L43.7 247.8 L49.0 250.4 L52.5 253.5 L57.8 257.9 L60.5 262.8 L62.2 265.4 L68.8 265.4 L67.9 262.3 L65.3 260.1 L65.7 257.9 L69.2 255.3 L73.6 253.1 L77.2 251.8 L81.5 252.2 L85.1 251.3 L86.8 250.4 L90.3 250.0 L95.0 251.3"/>
<path d="M71.9 232.0 L73.6 231.1 L80.7 230.4 L81.7 231.5 L79.8 232.4 L74.5 232.9 L71.9 232.0"/>
<path d="M76.3 252.0 L81.5 251.5 L82.0 253.1 L76.7 253.3 L76.3 252.0"/>
<path d="M90.0 250.7 L93.5 250.7 L95.3 252.0 L98.8 253.3 L106.7 253.7 L110.2 255.5 L116.4 256.4 L120.8 257.7 L126.0 258.6 L131.3 256.8 L134.0 255.5 L141.0 255.5 L142.8 256.4 L143.6 253.7 L151.6 252.4 L158.6 252.9 L165.0 253.3"/>
<path d="M155.0 252.8 L159.4 253.6 L166.4 253.2 L168.2 252.3 L173.5 252.3 L176.1 253.6 L181.4 255.4 L184.9 258.9 L188.4 262.0 L191.9 265.5 L195.9 268.6 L196.8 272.5 L198.5 276.1 L197.2 278.7 L195.4 280.4 L198.1 280.9 L201.6 280.4 L205.1 281.8 L207.8 286.6 L210.8 289.7 L213.9 286.6 L215.7 283.1 L217.0 278.2 L220.1 275.2 L224.5 269.9 L230.0 263.7"/>
<path d="M181.4 236.5 L184.9 240.0 L188.0 242.2 L193.7 245.3 L194.6 246.6 L192.8 249.2 L191.1 253.2 L189.7 256.3 L191.9 257.6 L191.9 261.5 L191.1 264.6 L191.9 265.5"/></g></g>
<rect x="428.5" y="454.5" width="405" height="319" fill="none" stroke="#000" stroke-width="1"/>
<rect x="694.5" y="668.5" width="129" height="95" fill="#fff" stroke="#000" stroke-width="1"/>
<text x="710" y="687.5" class="lt">Nr. Days</text>
<rect x="709.5" y="692.5" width="18" height="12" fill="#08c008" stroke="#000" stroke-width="1"/>
<rect x="709.5" y="704.5" width="18" height="12" fill="#33ff44" stroke="#000" stroke-width="1"/>
<rect x="709.5" y="716.5" width="18" height="12" fill="#c8ffd0" stroke="#000" stroke-width="1"/>
<rect x="709.5" y="728.5" width="18" height="12" fill="#e0d000" stroke="#000" stroke-width="1"/>
<rect x="709.5" y="740.5" width="18" height="12" fill="#ffe866" stroke="#000" stroke-width="1"/>
<rect x="754.5" y="692.5" width="18" height="12" fill="#ffffc8" stroke="#000" stroke-width="1"/>
<rect x="754.5" y="704.5" width="18" height="12" fill="#e08000" stroke="#000" stroke-width="1"/>
<rect x="754.5" y="716.5" width="18" height="12" fill="#ffa000" stroke="#000" stroke-width="1"/>
<rect x="754.5" y="728.5" width="18" height="12" fill="#ffc090" stroke="#000" stroke-width="1"/>
<rect x="754.5" y="740.5" width="18" height="12" fill="#ffffff" stroke="#000" stroke-width="1"/>
<text x="734" y="701.8" class="ll">0</text>
<text x="734" y="713.8" class="ll">1</text>
<text x="734" y="725.8" class="ll">2–3</text>
<text x="734" y="737.8" class="ll">4–5</text>
<text x="734" y="749.8" class="ll">6–8</text>
<text x="778.5" y="701.8" class="ll">9–11</text>
<text x="778.5" y="713.8" class="ll">12–14</text>
<text x="778.5" y="725.8" class="ll">15–20</text>
<text x="778.5" y="737.8" class="ll">21–25</text>
<text x="778.5" y="749.8" class="ll">&gt; 25</text>
<text x="625.9" y="422.7" class="tt" text-anchor="middle" textLength="237.8" lengthAdjust="spacingAndGlyphs">Number of Days Since Rain</text>
<text x="623.8" y="445" class="st" text-anchor="middle" textLength="252.4" lengthAdjust="spacingAndGlyphs" xml:space="preserve">in past 30 days, as of  15 Sep. 2010</text>
</svg>
</body></html>
